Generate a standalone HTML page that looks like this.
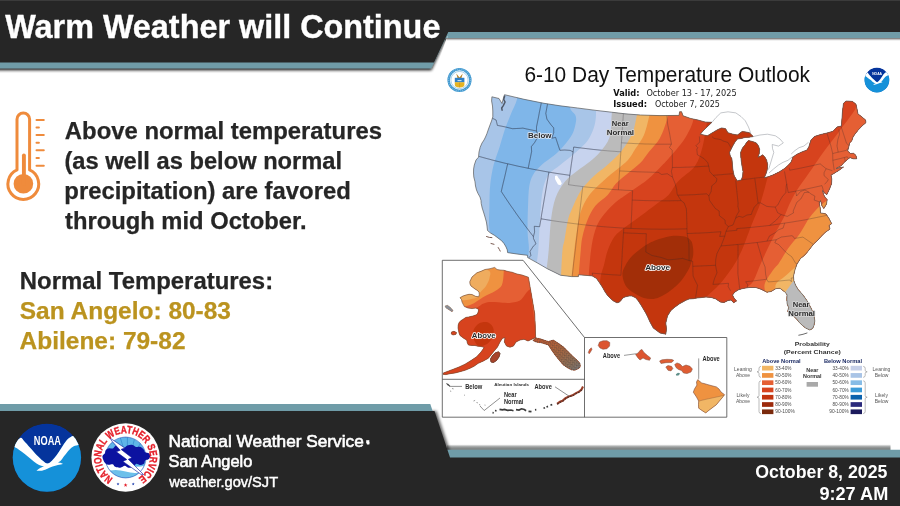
<!DOCTYPE html>
<html lang="en"><head><meta charset="utf-8"><title>Warm Weather will Continue</title>
<style>
html,body{margin:0;padding:0;background:#fff;}
body{width:900px;height:506px;overflow:hidden;position:relative;font-family:"Liberation Sans",sans-serif;}
svg{position:absolute;left:0;top:0;display:block;}
text{font-family:"Liberation Sans",sans-serif;}
.b{font-weight:bold;}
.dj{font-family:"DejaVu Sans","Liberation Sans",sans-serif;}
</style></head><body>
<svg width="900" height="506" viewBox="0 0 900 506">
<defs>
<filter id="sh" x="-5%" y="-30%" width="110%" height="180%"><feGaussianBlur in="SourceAlpha" stdDeviation="1.6"/><feOffset dy="2.4"/><feComponentTransfer><feFuncA type="linear" slope="0.9"/></feComponentTransfer><feMerge><feMergeNode/><feMergeNode in="SourceGraphic"/></feMerge></filter>
<filter id="shu" x="-5%" y="-30%" width="110%" height="180%"><feGaussianBlur in="SourceAlpha" stdDeviation="1.7"/><feOffset dy="-2.2"/><feComponentTransfer><feFuncA type="linear" slope="0.75"/></feComponentTransfer><feMerge><feMergeNode/><feMergeNode in="SourceGraphic"/></feMerge></filter>
<clipPath id="cl"><path d="M-5,-5 H452 V36 H447.5 L432,80 H-5Z"/></clipPath><clipPath id="cr"><path d="M452,-5 H910 V120 H432 L447.5,36 H452Z"/></clipPath>
<filter id="sh2" x="-5%" y="-30%" width="110%" height="180%"><feGaussianBlur in="SourceAlpha" stdDeviation="1.0"/><feOffset dy="1.3"/><feComponentTransfer><feFuncA type="linear" slope="0.7"/></feComponentTransfer><feMerge><feMergeNode/><feMergeNode in="SourceGraphic"/></feMerge></filter>
<filter id="shs" x="-5%" y="-30%" width="110%" height="160%"><feGaussianBlur in="SourceAlpha" stdDeviation="1.4"/><feOffset dx="1.5" dy="0"/><feComponentTransfer><feFuncA type="linear" slope="0.6"/></feComponentTransfer></filter>
<linearGradient id="fsh" x1="0" y1="0" x2="0" y2="1"><stop offset="0" stop-color="#5a6060" stop-opacity="0"/><stop offset="0.45" stop-color="#5a6060" stop-opacity="0.6"/><stop offset="1" stop-color="#4a5050" stop-opacity="0.8"/></linearGradient>
<clipPath id="us"><path d="M491.9,96.8 L499.0,98.5 L502.0,103.5 L503.2,99.0 L504.5,94.7 L524.0,99.3 L544.0,103.3 L560.0,105.8 L577.6,108.0 L596.0,110.4 L611.6,112.2 L625.0,113.8 L640.4,115.0 L660.0,115.6 L679.0,115.4 L679.6,111.8 L681.6,111.8 L683.0,115.8 L690.8,118.5 L698.0,120.0 L705.0,122.0 L712.0,122.3 L707.0,127.0 L703.0,131.0 L700.3,134.2 L707.4,135.8 L713.7,131.9 L718.0,129.5 L721.6,127.9 L725.6,128.7 L727.9,132.7 L733.0,134.2 L737.4,135.0 L740.0,133.0 L742.2,131.5 L746.0,132.0 L749.3,132.7 L751.7,135.0 L753.2,136.6 L749.0,137.2 L745.3,137.4 L741.0,138.5 L737.4,139.0 L735.0,142.0 L732.7,146.1 L729.5,152.4 L730.3,156.0 L731.9,158.8 L732.3,163.0 L732.7,168.2 L733.4,172.5 L734.3,176.1 L737.4,180.9 L741.4,179.8 L742.6,176.0 L743.0,171.4 L742.0,166.0 L741.4,161.9 L740.8,157.0 L740.6,152.4 L742.5,148.0 L745.3,144.5 L746.8,142.0 L748.5,140.6 L752.5,141.5 L756.4,142.9 L758.5,146.0 L759.6,149.3 L759.3,153.5 L758.0,157.2 L760.3,156.3 L762.7,154.8 L765.0,157.3 L766.7,160.3 L767.6,164.5 L767.5,168.2 L766.3,173.0 L764.3,177.7 L769.0,176.5 L773.8,174.6 L779.5,171.8 L784.9,168.2 L788.5,165.0 L791.2,161.9 L792.8,157.2 L796.5,154.5 L800.7,152.4 L807.0,150.0 L809.0,146.5 L810.0,143.0 L811.0,140.0 L814.4,136.5 L820.7,134.5 L827.0,133.0 L833.0,131.3 L837.0,127.0 L841.4,126.0 L842.0,118.0 L842.5,111.0 L843.5,103.3 L846.0,101.0 L849.7,101.2 L852.6,101.5 L856.0,104.3 L857.0,109.0 L858.0,114.0 L862.0,117.0 L865.5,120.0 L866.0,122.5 L862.0,126.0 L858.0,130.3 L855.0,134.0 L853.0,137.0 L851.8,140.7 L849.6,143.0 L849.0,146.0 L847.6,151.0 L850.5,153.5 L853.5,153.3 L856.0,155.5 L856.7,158.8 L853.0,158.8 L850.0,157.5 L847.6,159.4 L844.0,162.5 L841.4,165.6 L836.0,168.5 L843.5,167.0 L838.0,171.0 L833.0,174.0 L831.0,175.0 L831.8,179.0 L831.5,184.0 L829.5,189.0 L826.8,194.7 L824.0,192.5 L822.5,190.5 L823.5,194.5 L825.5,198.0 L827.2,199.5 L826.5,204.0 L823.9,208.5 L822.0,206.0 L820.5,200.5 L819.2,203.0 L820.3,208.5 L820.5,213.0 L823.0,213.3 L826.0,214.0 L829.0,218.5 L831.7,223.7 L829.0,225.5 L830.0,229.0 L825.0,232.6 L821.0,236.5 L818.0,240.0 L813.8,243.8 L810.5,248.0 L808.0,251.3 L804.9,254.9 L800.5,258.5 L797.0,264.0 L795.0,269.6 L793.5,276.0 L793.8,280.8 L796.0,286.0 L798.3,289.7 L803.0,295.0 L807.2,300.9 L811.0,308.0 L813.9,314.3 L814.8,321.0 L814.0,325.4 L812.6,328.5 L809.8,330.0 L805.7,328.1 L802.5,325.5 L799.4,322.6 L797.0,319.5 L794.6,317.0 L791.0,314.5 L787.7,311.5 L788.6,307.5 L787.2,304.0 L786.8,299.5 L787.0,294.9 L785.5,292.6 L784.9,292.0 L780.0,288.3 L776.0,288.6 L771.0,291.5 L767.0,292.2 L761.0,289.2 L755.9,287.5 L749.0,287.5 L742.5,288.6 L738.0,290.0 L734.7,292.2 L732.5,295.0 L734.0,298.0 L736.5,301.0 L733.6,302.7 L731.0,300.0 L728.0,300.5 L724.0,302.5 L720.2,302.0 L716.0,299.0 L711.3,297.5 L706.0,297.0 L702.0,297.5 L697.0,298.0 L693.4,298.7 L689.0,299.0 L685.9,300.3 L680.0,303.5 L675.0,307.0 L670.9,310.4 L667.5,316.0 L665.8,323.0 L666.5,329.0 L665.8,334.2 L660.0,333.0 L653.3,328.0 L650.0,322.0 L647.5,316.5 L645.7,312.9 L641.0,305.0 L638.0,300.5 L635.7,297.8 L632.0,296.0 L629.0,296.0 L625.5,296.8 L623.1,297.8 L620.5,301.0 L619.0,302.3 L616.9,302.8 L613.5,301.0 L611.0,299.0 L608.0,296.0 L605.6,292.8 L602.0,286.5 L599.0,282.0 L596.5,278.5 L592.3,275.9 L585.0,275.3 L578.4,274.8 L578.4,276.6 L571.5,276.6 L560.4,275.2 L554.0,272.0 L547.8,269.0 L538.0,263.3 L527.7,257.6 L527.5,255.3 L517.0,254.0 L507.6,252.6 L507.3,250.0 L506.0,246.9 L504.0,243.5 L501.6,240.7 L498.0,238.0 L494.4,235.3 L490.5,233.0 L487.5,230.5 L487.0,226.0 L486.4,222.0 L485.0,217.0 L483.8,213.0 L482.2,208.0 L481.2,203.5 L481.0,200.5 L480.0,197.0 L478.0,193.5 L476.5,190.0 L475.5,186.0 L475.0,181.8 L473.8,177.0 L473.5,173.0 L473.6,169.0 L474.3,165.0 L476.0,160.0 L478.5,157.2 L479.0,152.0 L480.2,147.2 L482.0,143.0 L484.0,140.0 L485.5,137.0 L486.9,133.7 L488.5,129.0 L490.0,125.0 L491.5,121.0 L492.8,116.9 L492.8,111.0 L492.5,106.0 L491.6,101.0Z"/></clipPath>
<linearGradient id="pang" x1="0" y1="0" x2="1" y2="1"><stop offset="0" stop-color="#cf5a30"/><stop offset="0.45" stop-color="#b4683e"/><stop offset="0.8" stop-color="#93745c"/><stop offset="1" stop-color="#7d7d82"/></linearGradient><pattern id="panh" width="2.6" height="2.6" patternUnits="userSpaceOnUse" patternTransform="rotate(40)"><path d="M0,0.6 H1.7 M1.2,1.9 H2.6" stroke="#4a4038" stroke-width="0.55"/></pattern><clipPath id="akc"><path d="M469.8,281.7 L472.0,277.0 L476.9,272.8 L481.0,271.3 L485.0,269.5 L490.0,268.7 L494.7,267.4 L497.0,269.5 L500.0,270.0 L504.0,270.3 L508.0,271.5 L512.0,272.2 L517.0,274.0 L522.0,275.0 L528.4,277.2 L531.5,295.0 L534.7,313.7 L535.3,326.0 L535.6,337.5 L532.0,339.2 L528.0,341.0 L524.0,339.3 L520.0,340.0 L516.0,342.0 L513.5,346.0 L510.0,347.2 L506.5,346.0 L504.3,342.0 L505.0,337.8 L502.5,338.2 L500.0,342.0 L497.5,347.0 L495.0,350.0 L488.3,358.3 L483.0,361.2 L478.3,363.3 L474.0,366.3 L470.0,368.3 L465.0,370.3 L460.0,371.7 L455.0,373.0 L450.0,373.7 L446.0,374.6 L443.3,374.4 L443.3,373.0 L448.0,371.2 L453.3,369.2 L459.0,367.0 L465.0,364.2 L471.0,360.5 L476.7,356.7 L481.0,352.0 L484.2,347.5 L481.0,346.5 L478.0,346.3 L475.0,345.5 L472.0,345.5 L468.3,345.0 L467.2,342.5 L466.7,340.0 L464.0,338.5 L462.0,337.0 L460.0,335.5 L459.1,333.2 L458.5,330.5 L458.0,328.0 L458.2,325.0 L459.1,322.6 L461.0,320.5 L462.0,320.0 L465.8,317.4 L468.5,317.0 L473.0,316.0 L477.0,314.5 L478.2,312.0 L478.7,309.5 L476.0,308.0 L472.0,308.6 L468.0,308.0 L464.4,306.6 L463.0,304.0 L462.0,302.0 L461.5,299.5 L460.0,297.7 L463.0,296.0 L466.0,295.0 L469.0,294.3 L472.0,294.5 L475.5,296.3 L478.7,296.8 L479.3,294.5 L479.0,292.0 L477.0,290.2 L475.0,289.0 L473.0,287.5 L471.0,286.0 L470.0,284.0Z M535.6,337.8 L541.0,339.0 L548.3,341.5 L553.3,340.0 L558.0,343.0 L563.3,346.7 L568.0,351.5 L573.3,356.7 L577.0,360.0 L580.0,363.3 L580.3,366.5 L579.2,368.3 L575.0,370.2 L571.7,370.0 L567.0,367.5 L563.3,365.0 L559.0,360.0 L555.0,355.0 L551.5,350.0 L548.3,345.0 L542.0,343.0 L536.0,342.0 L533.0,340.5Z M490.5,359.0 L492.5,355.5 L495.5,352.8 L498.5,351.8 L500.0,353.5 L499.0,357.0 L496.5,360.5 L493.5,362.5 L491.0,362.0Z M451.5,332.0 L454.0,331.3 L456.5,332.5 L456.0,334.3 L453.0,335.0 L451.3,334.0Z M445.0,306.0 L447.5,305.3 L450.5,307.5 L453.0,310.5 L452.0,311.8 L449.0,309.8 L446.0,308.0Z"/></clipPath><clipPath id="bigc"><path d="M697.8,379.6 L699.5,381.0 L701.5,383.0 L704.0,383.5 L708.0,384.7 L712.0,385.8 L716.4,386.9 L719.0,389.0 L721.0,392.0 L724.6,394.7 L722.0,398.0 L719.0,401.5 L716.4,404.7 L712.0,408.0 L708.0,411.0 L705.8,412.9 L703.0,411.2 L700.5,409.5 L698.7,408.2 L698.5,404.5 L698.7,401.1 L696.5,397.0 L693.3,392.2 L694.5,389.0 L696.9,385.1 L696.5,382.0Z"/></clipPath><clipPath id="westc"><path d="M611.8,108.0 C611.8,109.4 612.0,111.4 611.6,116.3 C611.2,121.2 611.4,131.6 609.5,137.5 C607.6,143.4 603.2,148.0 600.0,152.0 C596.8,156.0 593.8,158.3 590.0,161.5 C586.2,164.7 581.2,167.7 577.0,171.0 C572.8,174.3 568.6,177.0 565.0,181.5 C561.4,186.0 557.8,191.6 555.5,198.0 C553.2,204.4 552.1,211.3 551.0,220.0 C549.9,228.7 549.5,241.7 548.7,250.0 C548.0,258.3 546.9,266.7 546.5,270.0 L546.5,345 L440,345 L440,85 L611.8,85Z"/></clipPath>
</defs>
<rect width="900" height="506" fill="#fff"/>
<path d="M712,122.3 L716,117.5 L720.8,112.9 L728,111.8 L735.8,112.9 L741,116.5 L745.3,120.8 L748.5,127 L750.9,133.5 M753.2,136.6 L760,135 L767.5,134.2 L775.4,135.8 L780,139 L783.3,142.9 L778.5,146.1 L772.2,144.5 L772.5,148.5 L773.8,152.4 L771.5,160 L769,168.2 L764.3,174.6 M769,173 L773.5,169 L778.5,165 L783,162.3 L788,160.3 L792.8,156.4 M791.2,154 L795,150.5 L799,147.7 L803.8,146.1 L808.6,142.2" fill="none" stroke="#8a8f96" stroke-width="0.5" stroke-linejoin="round"/>
<g clip-path="url(#us)">
<rect x="440" y="85" width="460" height="260" fill="#a8c5e8"/>
<path d="M517.0,99.3 C515.9,103.8 512.5,110.0 510.4,115.2 C508.3,120.4 506.3,125.1 504.5,130.4 C502.7,135.7 501.3,141.4 499.5,147.2 C497.7,153.0 495.2,158.7 493.6,165.0 C492.1,171.3 490.9,178.0 490.2,185.0 C489.5,192.0 489.5,199.7 489.4,207.0 C489.3,214.3 488.5,223.1 489.4,228.8 C490.3,234.5 491.9,236.1 495.0,241.0 C498.1,245.9 502.5,254.2 508.0,258.0 C513.5,261.8 524.7,263.7 528.0,264.0 C531.3,264.3 527.6,262.7 527.7,260.0 C527.9,257.3 528.9,252.7 528.9,248.0 C528.9,243.3 527.8,238.8 527.6,232.0 C527.5,225.2 527.7,214.5 528.0,207.0 C528.3,199.5 528.4,192.1 529.2,186.8 C530.0,181.5 531.0,178.6 533.0,175.0 C535.0,171.4 538.0,168.2 541.5,165.0 C545.0,161.8 550.2,158.8 554.0,155.6 C557.8,152.3 560.9,149.2 564.0,145.5 C567.1,141.8 570.5,137.6 572.5,133.7 C574.5,129.8 575.4,125.1 575.9,122.0 C576.4,118.9 576.3,117.4 575.3,115.0 C574.3,112.6 570.9,111.5 570.0,107.7 C569.1,103.9 578.8,95.3 570.0,92.0 C561.2,88.7 525.8,86.8 517.0,88.0 C508.2,89.2 518.1,94.8 517.0,99.3Z" fill="#7fb6e9"/>
<path d="M596.0,108.0 C596.0,109.7 596.2,114.5 595.8,118.0 C595.4,121.5 594.8,125.3 593.4,129.0 C592.0,132.7 590.6,136.5 587.7,140.4 C584.8,144.3 580.4,148.2 575.9,152.2 C571.4,156.2 565.4,160.7 560.8,164.5 C556.2,168.3 551.4,170.7 548.4,175.0 C545.4,179.3 544.2,183.5 542.8,190.2 C541.4,196.9 541.0,205.4 540.2,215.4 C539.5,225.4 538.9,241.9 538.3,250.0 C537.7,258.1 536.8,261.7 536.5,264.0 L536.5,345.0 L905,345.0 L905,85.0 L596.0,85.0Z" fill="#c7d3ee"/>
<path d="M611.8,108.0 C611.8,109.4 612.0,111.4 611.6,116.3 C611.2,121.2 611.4,131.6 609.5,137.5 C607.6,143.4 603.2,148.0 600.0,152.0 C596.8,156.0 593.8,158.3 590.0,161.5 C586.2,164.7 581.2,167.7 577.0,171.0 C572.8,174.3 568.6,177.0 565.0,181.5 C561.4,186.0 557.8,191.6 555.5,198.0 C553.2,204.4 552.1,211.3 551.0,220.0 C549.9,228.7 549.5,241.7 548.7,250.0 C548.0,258.3 546.9,266.7 546.5,270.0 L546.5,345.0 L905,345.0 L905,85.0 L611.8,85.0Z" fill="#bbbbbb"/>
<path d="M638.7,110.0 C638.4,111.0 637.7,112.5 636.7,116.3 C635.7,120.1 635.0,127.2 632.5,133.0 C630.0,138.8 625.8,145.6 621.5,151.0 C617.2,156.4 611.3,161.5 606.8,165.6 C602.3,169.7 598.8,171.3 594.5,175.5 C590.2,179.7 584.8,184.8 581.0,190.5 C577.2,196.2 573.7,205.1 571.5,210.0 C569.3,214.9 569.2,215.0 568.0,220.0 C566.8,225.0 565.4,235.0 564.5,240.0 C563.6,245.0 563.1,243.8 562.5,250.0 C561.9,256.2 561.2,272.5 561.0,277.0 L561.0,345.0 L905,345.0 L905,85.0 L638.7,85.0Z" fill="#f1b665"/>
<path d="M649.8,110.0 C649.7,111.0 650.2,112.1 649.2,116.3 C648.2,120.5 646.3,129.6 644.0,135.0 C641.7,140.4 638.1,144.6 635.4,148.8 C632.7,153.0 631.1,156.6 628.0,160.0 C624.9,163.4 620.7,166.4 617.0,169.5 C613.3,172.6 610.7,174.2 606.0,178.5 C601.3,182.8 593.2,189.8 589.0,195.5 C584.8,201.2 582.5,206.8 580.5,212.5 C578.5,218.2 578.0,223.8 577.0,230.0 C576.0,236.2 575.2,241.8 574.3,250.0 C573.4,258.2 572.0,274.2 571.5,279.0 L571.5,345.0 L905,345.0 L905,85.0 L649.8,85.0Z" fill="#ef9240"/>
<path d="M666.6,110.0 C666.8,111.3 668.6,112.9 667.5,117.6 C666.4,122.3 663.1,132.3 660.0,138.0 C656.9,143.7 652.0,147.9 648.8,152.0 C645.5,156.1 644.0,159.3 640.5,162.8 C637.0,166.3 632.1,169.8 628.0,173.2 C623.9,176.6 619.4,179.9 616.0,183.5 C612.6,187.1 611.2,191.2 607.7,195.0 C604.2,198.8 598.6,201.8 595.2,206.0 C591.8,210.2 589.6,214.9 587.5,220.0 C585.4,225.1 583.6,231.5 582.5,236.5 C581.4,241.5 581.5,242.9 580.8,250.0 C580.1,257.1 578.8,274.2 578.4,279.0 L578.4,345.0 L905,345.0 L905,85.0 L666.6,85.0Z" fill="#e55f34"/>
<path d="M691.0,112.0 C691.3,113.5 694.1,116.8 693.0,121.3 C691.9,125.8 688.5,132.9 684.5,139.0 C680.5,145.1 672.8,153.6 669.0,158.0 C665.2,162.4 665.7,161.8 662.0,165.5 C658.3,169.2 653.0,175.1 647.0,180.0 C641.0,184.9 631.1,191.1 625.7,195.0 C620.3,198.9 618.6,199.6 614.6,203.3 C610.6,207.0 605.3,212.4 602.0,217.0 C598.7,221.6 596.8,225.4 595.0,231.0 C593.2,236.6 592.1,242.4 591.0,250.4 C589.9,258.4 588.9,274.2 588.5,279.0 L588.5,345.0 L905,345.0 L905,85.0 L691.0,85.0Z" fill="#d7431e"/>
<path d="M708.5,116.0 C708.1,117.9 707.0,122.4 706.0,127.6 C705.0,132.8 704.3,140.6 702.5,147.0 C700.7,153.4 699.1,160.2 695.0,166.0 C690.9,171.8 682.4,176.7 678.0,181.5 C673.6,186.3 672.0,191.4 668.6,195.0 C665.2,198.6 662.1,199.8 657.5,203.3 C652.9,206.8 646.2,211.9 640.9,215.8 C635.6,219.7 630.1,223.4 625.7,226.8 C621.3,230.2 617.6,232.6 614.6,236.5 C611.6,240.4 609.5,245.7 607.7,250.4 C605.9,255.2 605.1,260.9 604.0,265.0 C602.9,269.1 601.7,271.8 601.0,275.0 C600.3,278.2 600.1,282.5 599.9,284.0 L599.9,345.0 L905,345.0 L905,85.0 L708.5,85.0Z" fill="#c4360d"/>
<path d="M622.5,272.7 C622.8,269.9 624.5,267.3 625.7,265.0 C626.9,262.7 627.9,261.0 629.5,259.0 C631.1,257.0 632.6,255.4 635.4,253.0 C638.2,250.6 643.1,246.9 646.4,244.8 C649.7,242.7 652.2,241.7 655.0,240.5 C657.8,239.3 660.5,238.6 663.0,237.9 C665.5,237.2 667.7,236.5 670.0,236.2 C672.3,235.8 674.7,235.8 676.9,235.8 C679.1,235.8 681.1,236.0 683.0,236.3 C684.9,236.7 686.6,237.0 688.0,237.9 C689.4,238.8 690.7,240.1 691.5,241.5 C692.3,242.9 692.5,244.4 692.8,246.2 C693.1,247.9 693.3,250.2 693.3,252.0 C693.3,253.8 693.3,255.1 692.8,257.3 C692.3,259.5 691.3,262.8 690.5,265.0 C689.7,267.2 689.6,267.8 688.0,270.5 C686.4,273.2 683.9,277.7 681.0,281.0 C678.1,284.3 674.1,287.8 670.9,290.3 C667.7,292.8 664.9,294.6 662.0,296.0 C659.1,297.4 656.3,298.7 653.3,299.0 C650.3,299.3 646.9,298.8 644.0,298.0 C641.1,297.2 638.4,295.6 635.7,294.0 C633.0,292.4 630.0,290.5 628.0,288.5 C626.0,286.5 624.9,284.6 624.0,282.0 C623.1,279.4 622.2,275.5 622.5,272.7Z" fill="#a22e08"/>
<path d="M800.0,100.0 C798.3,108.3 794.7,137.8 790.0,150.0 C785.3,162.2 775.7,168.5 772.0,173.0 C768.3,177.5 769.2,174.1 768.0,176.8 C766.8,179.5 765.7,184.9 764.5,189.0 C763.3,193.1 762.3,197.3 761.0,201.3 C759.7,205.3 758.1,209.1 756.5,213.0 C754.9,216.9 753.6,219.7 751.5,225.0 C749.4,230.3 746.3,239.3 744.0,245.0 C741.7,250.7 739.7,254.9 737.5,259.0 C735.3,263.1 733.2,266.3 731.0,269.6 C728.8,272.9 726.4,276.0 724.0,279.0 C721.6,282.0 719.5,284.5 716.5,287.5 C713.5,290.5 709.1,293.9 706.0,297.0 C702.9,300.1 699.3,304.5 698.0,306.0 L698.0,345.0 L905,345.0 L905,100.0 L800.0,100.0Z" fill="#d7431e"/>
<path d="M856.0,106.0 C855.6,106.9 856.8,107.1 853.8,111.6 C850.8,116.1 843.0,126.3 838.0,133.0 C833.0,139.7 827.8,146.2 823.5,152.0 C819.2,157.8 815.8,163.3 812.5,168.0 C809.2,172.7 806.8,176.1 804.0,180.0 C801.2,183.9 798.4,187.5 796.0,191.5 C793.6,195.5 791.5,199.8 789.5,204.0 C787.5,208.2 786.1,212.7 784.0,217.0 C781.9,221.3 779.3,225.5 777.0,230.0 C774.7,234.5 772.7,238.3 770.0,243.8 C767.3,249.3 763.8,256.8 761.0,263.0 C758.2,269.2 756.0,276.5 753.5,280.8 C751.0,285.1 748.1,285.8 746.0,289.0 C743.9,292.2 741.8,298.2 741.0,300.0 L741.0,345.0 L905,345.0 L905,106.0 L856.0,106.0Z" fill="#e55f34"/>
<path d="M838.0,196.0 C836.3,196.7 831.0,198.4 828.0,200.0 C825.0,201.6 823.0,203.0 820.0,205.8 C817.0,208.6 812.5,213.8 810.0,217.0 C807.5,220.2 806.8,222.0 805.0,225.0 C803.2,228.0 801.8,230.9 799.0,234.8 C796.2,238.7 791.3,243.8 788.0,248.5 C784.7,253.2 781.4,259.5 779.0,263.0 C776.6,266.5 775.8,266.3 773.5,269.6 C771.2,272.9 766.4,279.3 765.0,283.0 C763.6,286.7 765.0,289.2 765.0,292.0 C765.0,294.8 765.0,298.7 765.0,300.0 L765.0,345.0 L905,345.0 L905,196.0 L838.0,196.0Z" fill="#ef9240"/>
<path d="M803.0,262.0 C802.0,262.7 798.5,264.9 797.0,266.0 C795.5,267.1 795.8,266.8 793.8,268.5 C791.8,270.2 788.0,273.7 785.0,276.3 C782.0,278.9 777.5,281.4 776.0,284.0 C774.5,286.6 776.0,290.7 776.0,292.0 L776.0,345.0 L905,345.0 L905,262.0 L803.0,262.0Z" fill="#f1b665"/>
<path d="M802.0,275.0 C801.0,275.7 797.4,278.0 796.0,279.0 C794.6,280.0 794.9,279.6 793.8,280.8 C792.7,282.0 790.9,284.4 789.4,286.4 C787.9,288.3 786.5,290.2 784.9,292.5 C783.3,294.8 780.8,298.8 780.0,300.0 L780.0,345.0 L905,345.0 L905,275.0 L802.0,275.0Z" fill="#bbbbbb"/>
<path d="M555.0,176.0 L557.0,175.6 L558.5,178.0 L560.5,180.5 L561.8,183.5 L560.5,185.3 L558.0,184.5 L556.3,181.5 L555.0,179.0Z" fill="#fff"/>
<path d="M491.2,117.7 L496.1,120.0 L497.4,125.4 L501.7,126.2 L506.0,127.1 L509.2,127.9 L512.5,128.7 L516.7,128.5 L520.8,128.3 L522.9,128.1 L526.3,128.9 L529.7,129.6 L533.1,130.3 L536.5,131.0 M541.4,102.4 L540.4,107.4 L539.4,112.2 L538.5,117.1 L537.5,122.0 L536.5,126.9 L536.5,131.0 M536.5,131.0 L538.3,136.2 L534.7,142.4 L531.4,146.6 L531.6,151.5 L530.5,157.1 L529.3,162.7 L528.2,168.3 M479.0,156.4 L482.6,157.4 L486.2,158.4 L489.7,159.3 L493.3,160.3 L496.9,161.2 L500.5,162.1 L504.1,163.0 L507.7,163.8 L511.8,164.7 L515.9,165.7 L520.0,166.6 L524.1,167.4 L528.2,168.3 L532.3,169.1 L536.5,169.9 L540.6,170.6 L544.7,171.4 L548.9,172.1 L552.4,172.7 L555.9,173.3 L559.3,173.8 L562.8,174.3 L566.3,174.8 L569.8,175.3 M507.7,163.8 L506.6,168.4 L505.6,173.0 L504.5,177.7 L503.4,182.3 L502.3,186.9 L501.3,191.5 L504.3,196.1 L507.3,200.6 L510.4,205.2 L513.6,209.7 L516.7,214.2 L520.0,218.8 L523.3,223.2 L526.6,227.7 L530.0,232.2 L533.4,236.6 M533.4,236.6 L534.6,232.1 L534.3,226.3 L539.6,226.7 L541.0,218.8 L541.7,214.1 L542.5,209.5 L543.3,204.8 L544.1,200.1 L544.9,195.5 L545.7,190.8 L546.5,186.1 L547.3,181.5 L548.1,176.8 L548.9,172.1 M533.4,236.6 L533.5,238.6 L536.0,243.8 L533.3,246.2 L530.0,251.4 L530.9,255.4 L528.9,257.8 M541.0,218.8 L544.7,219.4 L548.4,220.0 L552.1,220.6 L555.9,221.2 L559.6,221.7 L563.3,222.2 L567.1,222.7 L570.8,223.2 L574.6,223.7 L578.3,224.1 L582.1,224.6 L585.9,225.0 L589.6,225.4 L593.4,225.8 L597.2,226.1 L601.0,226.5 L604.8,226.8 L608.6,227.1 L612.4,227.4 L616.2,227.6 L620.0,227.9 L623.8,228.1 L631.0,228.4 L635.0,228.6 L639.0,228.7 L643.0,228.9 L647.0,229.0 L651.0,229.1 L655.0,229.1 L659.0,229.2 L663.0,229.2 L667.0,229.2 L671.0,229.1 L675.0,229.1 L679.0,229.0 L683.0,228.9 L687.0,228.8 M582.7,186.6 L582.2,191.3 L581.6,196.0 L581.1,200.7 L580.5,205.4 L580.0,210.1 L579.4,214.8 L578.9,219.5 L578.3,224.1 L577.7,229.0 L577.2,233.8 L576.6,238.7 L576.0,243.5 L575.5,248.3 L574.9,253.2 L574.3,258.0 L573.7,262.9 L573.2,267.7 L572.6,272.6 L572.0,277.4 M569.8,175.3 L569.2,180.0 L568.5,184.7 L572.1,185.2 L575.6,185.7 L579.2,186.1 L582.7,186.6 L586.3,187.0 L589.8,187.4 L593.4,187.7 L597.0,188.1 L600.5,188.4 L604.1,188.7 L607.6,189.0 L611.2,189.3 L614.8,189.6 L618.4,189.8 L621.9,190.0 L625.5,190.3 L629.1,190.4 L632.6,190.6 M569.8,175.3 L570.6,169.5 L571.4,163.7 L572.3,157.8 L573.1,151.9 L573.7,147.0 M547.6,103.7 L546.7,108.5 L545.8,113.4 L546.9,119.1 L550.8,124.6 L553.7,127.9 L553.7,132.7 L551.8,138.2 L555.6,137.4 L557.8,144.1 L559.9,150.3 L564.7,150.0 L570.2,150.4 L573.1,151.9 M573.7,147.0 L577.1,147.5 L580.5,147.9 L583.8,148.3 L587.2,148.7 L590.5,149.1 L593.9,149.5 L597.3,149.8 L600.6,150.2 L604.0,150.5 L607.4,150.8 L610.7,151.1 L614.1,151.3 L617.5,151.6 L620.9,151.8 M623.4,113.4 L623.1,118.3 L622.7,123.2 L622.4,128.1 L622.1,133.0 L621.8,137.9 L621.4,142.8 L620.9,151.8 L620.5,156.6 L620.2,161.4 L619.9,166.1 L619.6,170.9 L619.3,175.6 L619.0,180.4 L618.7,185.1 L618.4,189.8 M621.4,142.8 L624.8,143.0 L628.2,143.2 L631.6,143.4 L634.9,143.6 L638.3,143.7 L641.7,143.8 L645.1,144.0 L648.4,144.0 L652.3,144.1 L656.1,144.2 L659.9,144.2 L663.7,144.2 L667.6,144.2 L671.4,144.2 M619.6,170.9 L623.1,171.1 L626.7,171.3 L630.2,171.5 L633.7,171.6 L637.3,171.8 L640.8,171.9 L644.3,172.0 L647.8,172.1 L651.2,172.2 L654.7,172.3 L658.2,172.3 L661.7,174.5 L667.3,173.7 L670.8,176.1 L672.5,177.1 M632.6,190.6 L632.4,195.4 L632.2,200.1 L632.0,204.8 L631.8,209.5 L631.6,214.3 L631.4,219.0 L631.2,223.7 L631.0,228.4 M632.2,200.1 L635.9,200.2 L639.6,200.4 L643.3,200.5 L646.9,200.6 L650.6,200.7 L654.3,200.7 L658.0,200.8 L661.8,200.8 L665.7,200.8 L669.5,200.8 L673.4,200.7 L677.2,200.7 L681.1,200.6 M681.1,200.6 L684.1,202.9 L686.4,208.8 L686.6,213.8 L686.7,218.8 L686.9,223.8 L687.0,228.8 L687.1,233.5 L688.0,238.7 L688.9,243.9 L689.0,249.4 L689.0,255.0 L689.1,260.5 L692.6,261.2 L692.8,266.3 L692.9,271.1 L693.1,276.0 L695.2,280.6 L697.5,285.2 L696.5,291.9 L695.5,297.7 M623.8,228.1 L623.5,232.8 L627.3,233.0 L631.1,233.2 L634.9,233.3 L638.7,233.5 L642.5,233.6 L646.3,233.7 L646.1,239.8 L646.0,245.9 L645.8,252.0 L652.0,255.5 L656.7,256.5 L661.4,257.5 L668.1,259.9 L674.0,259.4 L678.3,258.9 L682.6,258.4 L689.1,260.5 M623.5,232.8 L623.2,237.5 L622.9,242.2 L622.6,246.9 L622.3,251.6 L622.1,256.4 L621.8,261.1 L621.5,265.8 L621.2,270.5 L620.9,275.3 L616.8,275.0 L612.7,274.8 L608.6,274.5 L604.5,274.2 L600.4,273.8 L596.3,273.5 L592.2,273.1 L592.7,275.3 M692.8,266.3 L697.3,266.1 L701.9,265.9 L706.4,265.7 L711.0,265.5 L715.5,265.3 M687.1,233.5 L691.1,233.4 L695.1,233.2 L699.1,233.1 L703.0,232.9 L707.0,232.7 L711.7,232.4 L716.4,232.0 L721.0,231.7 L719.7,236.5 L724.8,236.1 M730.6,290.9 L728.2,286.7 L728.5,283.3 L723.3,283.7 L718.1,284.1 L712.9,284.4 L714.5,278.6 L717.0,272.8 L715.5,265.3 L715.7,259.6 L716.9,253.8 L719.3,248.9 L721.0,245.9 L722.6,242.0 L724.8,236.1 L726.0,231.3 L728.4,226.5 L725.3,223.8 L725.0,220.0 L719.4,215.7 L719.1,211.0 L715.2,208.4 L709.5,200.3 L708.9,195.9 L711.1,191.6 L711.8,185.9 L716.1,182.2 L717.0,178.8 L713.2,175.3 L709.8,171.7 L708.7,166.1 L707.8,162.8 L704.1,158.7 L700.5,156.5 L697.4,154.8 L696.8,149.5 L697.7,147.6 L695.9,145.8 L699.7,142.0 L699.4,136.4 M672.4,167.5 L676.7,167.4 L680.9,167.4 L685.1,167.2 L689.4,167.1 L693.2,166.9 L697.1,166.8 L701.0,166.5 L704.8,166.3 L708.7,166.1 M677.7,195.2 L681.7,195.1 L685.8,195.0 L689.9,194.8 L694.0,194.7 L698.2,194.4 L702.5,194.1 L706.7,193.8 L708.9,195.9 M672.4,167.5 L671.4,171.3 L672.5,177.1 L675.1,183.6 L676.6,189.3 L677.1,194.0 L677.7,195.2 L681.1,200.6 M666.8,114.7 L667.2,119.5 L667.7,124.4 L668.7,129.2 L669.7,134.0 L670.5,138.8 L671.4,143.6 L671.4,144.2 L669.5,147.5 L672.2,150.3 L672.3,156.1 L672.4,161.8 L672.4,167.5 M713.2,175.3 L717.1,175.0 L721.1,174.7 L725.1,174.3 L729.1,174.0 L733.1,173.6 M731.9,148.8 L730.3,146.5 L727.9,142.4 L723.1,141.0 L720.9,139.7 L717.5,139.0 L714.0,138.4 L712.0,136.6 M735.7,180.4 L736.3,186.1 L736.9,191.8 L737.5,197.4 L738.1,203.1 L737.9,206.4 L739.1,211.1 L736.3,216.1 L735.7,218.1 M754.8,178.7 L755.5,183.6 L756.1,188.5 L756.8,193.4 L757.4,198.2 L758.1,203.1 M738.0,180.1 L742.2,179.7 L746.5,179.2 L750.7,178.7 L754.9,178.1 L759.6,177.6 L764.4,177.1 M728.4,226.5 L733.0,225.0 L735.7,218.1 L738.9,216.3 L742.8,217.3 L747.0,215.0 L751.4,214.4 L752.2,211.8 L754.3,207.1 L758.1,203.1 L760.4,202.8 L766.8,206.4 L771.0,206.8 L775.2,207.1 L777.8,205.0 L780.4,199.8 L782.4,196.6 L785.8,192.6 L786.2,186.3 L786.7,183.9 M784.5,171.4 L785.6,177.7 L786.7,183.9 L788.2,192.5 L792.0,191.8 L795.7,191.1 L800.4,190.2 L805.1,189.3 L809.8,188.3 L813.9,187.4 L817.9,186.5 L822.0,185.6 M775.2,207.1 L777.6,212.7 L781.1,214.6 L776.4,220.0 L769.7,225.4 M726.0,231.3 L731.4,230.8 L736.9,230.3 L736.8,228.6 L740.6,228.3 L744.5,228.0 L748.4,227.6 L752.2,227.3 L756.6,226.8 L761.0,226.4 L765.4,225.9 L769.7,225.4 L773.5,224.8 L777.2,224.3 L781.0,223.7 L784.7,223.1 L788.8,222.5 L792.8,221.9 L796.8,221.2 L800.8,220.6 L804.8,219.9 L808.7,219.1 L812.6,218.3 L816.5,217.5 L820.3,216.7 L824.2,215.9 L828.1,215.0 M784.7,223.1 L783.1,228.1 L778.7,229.7 L775.3,232.7 L769.5,235.9 L767.0,241.1 M721.0,245.9 L725.0,245.6 L729.1,245.3 L733.1,244.9 L737.2,244.5 L741.2,244.2 L745.2,243.8 L749.2,243.4 L753.2,242.9 L757.2,242.5 L762.1,241.8 L767.0,241.1 L771.6,240.4 L776.3,239.7 M737.2,244.5 L738.0,245.4 L738.0,250.1 L738.0,254.9 L738.0,259.7 L737.9,264.5 L737.9,269.2 L737.9,274.0 L738.6,279.3 L739.2,284.6 L739.9,289.9 M757.2,242.5 L758.6,247.3 L760.1,252.2 L761.5,257.0 L763.0,261.9 L765.1,267.0 L765.6,274.1 L766.7,279.2 M747.2,288.4 L747.7,284.8 L745.7,281.7 L749.9,281.3 L754.1,280.8 L758.3,280.3 L762.5,279.8 L766.7,279.2 L768.2,281.9 L772.5,281.6 L776.9,281.2 L781.2,280.8 L785.5,280.4 L789.9,280.0 L791.4,281.8 L791.2,278.0 L795.7,277.7 M776.3,239.7 L774.8,242.7 L778.7,244.6 L785.3,251.7 L788.1,254.1 L791.8,256.8 L795.7,263.4 L798.1,264.6 M776.3,239.7 L781.4,237.0 L786.6,236.4 L791.8,235.7 L792.8,236.0 L794.4,238.4 L798.6,237.8 L802.9,237.1 L808.0,240.6 L813.1,244.2 M781.1,214.6 L787.3,216.4 L793.5,212.9 L793.2,211.0 L796.9,202.2 L800.8,199.0 L804.4,192.5 L809.0,192.3 M809.0,192.3 L805.0,190.0 L800.8,191.3 L796.6,196.0 L795.7,191.1 M809.0,192.3 L811.0,194.0 L814.9,196.1 L814.2,200.1 L817.0,201.0 L822.5,203.2 M822.0,185.6 L823.6,191.4 L825.3,197.1 L830.0,196.1 M824.6,184.3 L827.0,181.7 L828.3,179.5 L824.0,175.6 L824.1,172.7 L826.1,168.7 L820.2,163.9 L816.4,164.7 L812.6,165.6 L808.8,166.4 L805.0,167.2 L801.2,168.0 L797.4,168.8 L793.5,169.5 L789.7,170.2 L789.3,167.7 M826.1,168.7 L832.4,170.7 M834.2,170.2 L833.5,165.3 L832.8,160.3 L832.7,153.5 L830.8,145.6 L828.8,139.2 L826.8,132.8 M832.8,160.3 L836.7,159.4 L840.5,158.5 L844.4,157.5 L845.8,164.0 M844.4,157.5 L847.3,156.8 L849.8,161.2 M832.7,153.5 L838.2,152.2 L842.2,151.3 L846.1,150.4 L848.9,147.9 M838.2,152.2 L837.0,145.9 L837.8,139.8 L839.5,134.4 L838.9,129.5 M849.2,145.8 L846.5,143.3 L844.9,138.3 L843.3,133.3 L840.9,126.1" fill="none" stroke="#30282c" stroke-opacity="0.4" stroke-width="0.7" stroke-linejoin="round"/>
<g clip-path="url(#westc)"><path d="M491.2,117.7 L496.1,120.0 L497.4,125.4 L501.7,126.2 L506.0,127.1 L509.2,127.9 L512.5,128.7 L516.7,128.5 L520.8,128.3 L522.9,128.1 L526.3,128.9 L529.7,129.6 L533.1,130.3 L536.5,131.0 M541.4,102.4 L540.4,107.4 L539.4,112.2 L538.5,117.1 L537.5,122.0 L536.5,126.9 L536.5,131.0 M536.5,131.0 L538.3,136.2 L534.7,142.4 L531.4,146.6 L531.6,151.5 L530.5,157.1 L529.3,162.7 L528.2,168.3 M479.0,156.4 L482.6,157.4 L486.2,158.4 L489.7,159.3 L493.3,160.3 L496.9,161.2 L500.5,162.1 L504.1,163.0 L507.7,163.8 L511.8,164.7 L515.9,165.7 L520.0,166.6 L524.1,167.4 L528.2,168.3 L532.3,169.1 L536.5,169.9 L540.6,170.6 L544.7,171.4 L548.9,172.1 L552.4,172.7 L555.9,173.3 L559.3,173.8 L562.8,174.3 L566.3,174.8 L569.8,175.3 M507.7,163.8 L506.6,168.4 L505.6,173.0 L504.5,177.7 L503.4,182.3 L502.3,186.9 L501.3,191.5 L504.3,196.1 L507.3,200.6 L510.4,205.2 L513.6,209.7 L516.7,214.2 L520.0,218.8 L523.3,223.2 L526.6,227.7 L530.0,232.2 L533.4,236.6 M533.4,236.6 L534.6,232.1 L534.3,226.3 L539.6,226.7 L541.0,218.8 L541.7,214.1 L542.5,209.5 L543.3,204.8 L544.1,200.1 L544.9,195.5 L545.7,190.8 L546.5,186.1 L547.3,181.5 L548.1,176.8 L548.9,172.1 M533.4,236.6 L533.5,238.6 L536.0,243.8 L533.3,246.2 L530.0,251.4 L530.9,255.4 L528.9,257.8 M541.0,218.8 L544.7,219.4 L548.4,220.0 L552.1,220.6 L555.9,221.2 L559.6,221.7 L563.3,222.2 L567.1,222.7 L570.8,223.2 L574.6,223.7 L578.3,224.1 L582.1,224.6 L585.9,225.0 L589.6,225.4 L593.4,225.8 L597.2,226.1 L601.0,226.5 L604.8,226.8 L608.6,227.1 L612.4,227.4 L616.2,227.6 L620.0,227.9 L623.8,228.1 L631.0,228.4 L635.0,228.6 L639.0,228.7 L643.0,228.9 L647.0,229.0 L651.0,229.1 L655.0,229.1 L659.0,229.2 L663.0,229.2 L667.0,229.2 L671.0,229.1 L675.0,229.1 L679.0,229.0 L683.0,228.9 L687.0,228.8 M582.7,186.6 L582.2,191.3 L581.6,196.0 L581.1,200.7 L580.5,205.4 L580.0,210.1 L579.4,214.8 L578.9,219.5 L578.3,224.1 L577.7,229.0 L577.2,233.8 L576.6,238.7 L576.0,243.5 L575.5,248.3 L574.9,253.2 L574.3,258.0 L573.7,262.9 L573.2,267.7 L572.6,272.6 L572.0,277.4 M569.8,175.3 L569.2,180.0 L568.5,184.7 L572.1,185.2 L575.6,185.7 L579.2,186.1 L582.7,186.6 L586.3,187.0 L589.8,187.4 L593.4,187.7 L597.0,188.1 L600.5,188.4 L604.1,188.7 L607.6,189.0 L611.2,189.3 L614.8,189.6 L618.4,189.8 L621.9,190.0 L625.5,190.3 L629.1,190.4 L632.6,190.6 M569.8,175.3 L570.6,169.5 L571.4,163.7 L572.3,157.8 L573.1,151.9 L573.7,147.0 M547.6,103.7 L546.7,108.5 L545.8,113.4 L546.9,119.1 L550.8,124.6 L553.7,127.9 L553.7,132.7 L551.8,138.2 L555.6,137.4 L557.8,144.1 L559.9,150.3 L564.7,150.0 L570.2,150.4 L573.1,151.9 M573.7,147.0 L577.1,147.5 L580.5,147.9 L583.8,148.3 L587.2,148.7 L590.5,149.1 L593.9,149.5 L597.3,149.8 L600.6,150.2 L604.0,150.5 L607.4,150.8 L610.7,151.1 L614.1,151.3 L617.5,151.6 L620.9,151.8 M623.4,113.4 L623.1,118.3 L622.7,123.2 L622.4,128.1 L622.1,133.0 L621.8,137.9 L621.4,142.8 L620.9,151.8 L620.5,156.6 L620.2,161.4 L619.9,166.1 L619.6,170.9 L619.3,175.6 L619.0,180.4 L618.7,185.1 L618.4,189.8 M621.4,142.8 L624.8,143.0 L628.2,143.2 L631.6,143.4 L634.9,143.6 L638.3,143.7 L641.7,143.8 L645.1,144.0 L648.4,144.0 L652.3,144.1 L656.1,144.2 L659.9,144.2 L663.7,144.2 L667.6,144.2 L671.4,144.2 M619.6,170.9 L623.1,171.1 L626.7,171.3 L630.2,171.5 L633.7,171.6 L637.3,171.8 L640.8,171.9 L644.3,172.0 L647.8,172.1 L651.2,172.2 L654.7,172.3 L658.2,172.3 L661.7,174.5 L667.3,173.7 L670.8,176.1 L672.5,177.1 M632.6,190.6 L632.4,195.4 L632.2,200.1 L632.0,204.8 L631.8,209.5 L631.6,214.3 L631.4,219.0 L631.2,223.7 L631.0,228.4 M632.2,200.1 L635.9,200.2 L639.6,200.4 L643.3,200.5 L646.9,200.6 L650.6,200.7 L654.3,200.7 L658.0,200.8 L661.8,200.8 L665.7,200.8 L669.5,200.8 L673.4,200.7 L677.2,200.7 L681.1,200.6 M681.1,200.6 L684.1,202.9 L686.4,208.8 L686.6,213.8 L686.7,218.8 L686.9,223.8 L687.0,228.8 L687.1,233.5 L688.0,238.7 L688.9,243.9 L689.0,249.4 L689.0,255.0 L689.1,260.5 L692.6,261.2 L692.8,266.3 L692.9,271.1 L693.1,276.0 L695.2,280.6 L697.5,285.2 L696.5,291.9 L695.5,297.7 M623.8,228.1 L623.5,232.8 L627.3,233.0 L631.1,233.2 L634.9,233.3 L638.7,233.5 L642.5,233.6 L646.3,233.7 L646.1,239.8 L646.0,245.9 L645.8,252.0 L652.0,255.5 L656.7,256.5 L661.4,257.5 L668.1,259.9 L674.0,259.4 L678.3,258.9 L682.6,258.4 L689.1,260.5 M623.5,232.8 L623.2,237.5 L622.9,242.2 L622.6,246.9 L622.3,251.6 L622.1,256.4 L621.8,261.1 L621.5,265.8 L621.2,270.5 L620.9,275.3 L616.8,275.0 L612.7,274.8 L608.6,274.5 L604.5,274.2 L600.4,273.8 L596.3,273.5 L592.2,273.1 L592.7,275.3 M692.8,266.3 L697.3,266.1 L701.9,265.9 L706.4,265.7 L711.0,265.5 L715.5,265.3 M687.1,233.5 L691.1,233.4 L695.1,233.2 L699.1,233.1 L703.0,232.9 L707.0,232.7 L711.7,232.4 L716.4,232.0 L721.0,231.7 L719.7,236.5 L724.8,236.1 M730.6,290.9 L728.2,286.7 L728.5,283.3 L723.3,283.7 L718.1,284.1 L712.9,284.4 L714.5,278.6 L717.0,272.8 L715.5,265.3 L715.7,259.6 L716.9,253.8 L719.3,248.9 L721.0,245.9 L722.6,242.0 L724.8,236.1 L726.0,231.3 L728.4,226.5 L725.3,223.8 L725.0,220.0 L719.4,215.7 L719.1,211.0 L715.2,208.4 L709.5,200.3 L708.9,195.9 L711.1,191.6 L711.8,185.9 L716.1,182.2 L717.0,178.8 L713.2,175.3 L709.8,171.7 L708.7,166.1 L707.8,162.8 L704.1,158.7 L700.5,156.5 L697.4,154.8 L696.8,149.5 L697.7,147.6 L695.9,145.8 L699.7,142.0 L699.4,136.4 M672.4,167.5 L676.7,167.4 L680.9,167.4 L685.1,167.2 L689.4,167.1 L693.2,166.9 L697.1,166.8 L701.0,166.5 L704.8,166.3 L708.7,166.1 M677.7,195.2 L681.7,195.1 L685.8,195.0 L689.9,194.8 L694.0,194.7 L698.2,194.4 L702.5,194.1 L706.7,193.8 L708.9,195.9 M672.4,167.5 L671.4,171.3 L672.5,177.1 L675.1,183.6 L676.6,189.3 L677.1,194.0 L677.7,195.2 L681.1,200.6 M666.8,114.7 L667.2,119.5 L667.7,124.4 L668.7,129.2 L669.7,134.0 L670.5,138.8 L671.4,143.6 L671.4,144.2 L669.5,147.5 L672.2,150.3 L672.3,156.1 L672.4,161.8 L672.4,167.5 M713.2,175.3 L717.1,175.0 L721.1,174.7 L725.1,174.3 L729.1,174.0 L733.1,173.6 M731.9,148.8 L730.3,146.5 L727.9,142.4 L723.1,141.0 L720.9,139.7 L717.5,139.0 L714.0,138.4 L712.0,136.6 M735.7,180.4 L736.3,186.1 L736.9,191.8 L737.5,197.4 L738.1,203.1 L737.9,206.4 L739.1,211.1 L736.3,216.1 L735.7,218.1 M754.8,178.7 L755.5,183.6 L756.1,188.5 L756.8,193.4 L757.4,198.2 L758.1,203.1 M738.0,180.1 L742.2,179.7 L746.5,179.2 L750.7,178.7 L754.9,178.1 L759.6,177.6 L764.4,177.1 M728.4,226.5 L733.0,225.0 L735.7,218.1 L738.9,216.3 L742.8,217.3 L747.0,215.0 L751.4,214.4 L752.2,211.8 L754.3,207.1 L758.1,203.1 L760.4,202.8 L766.8,206.4 L771.0,206.8 L775.2,207.1 L777.8,205.0 L780.4,199.8 L782.4,196.6 L785.8,192.6 L786.2,186.3 L786.7,183.9 M784.5,171.4 L785.6,177.7 L786.7,183.9 L788.2,192.5 L792.0,191.8 L795.7,191.1 L800.4,190.2 L805.1,189.3 L809.8,188.3 L813.9,187.4 L817.9,186.5 L822.0,185.6 M775.2,207.1 L777.6,212.7 L781.1,214.6 L776.4,220.0 L769.7,225.4 M726.0,231.3 L731.4,230.8 L736.9,230.3 L736.8,228.6 L740.6,228.3 L744.5,228.0 L748.4,227.6 L752.2,227.3 L756.6,226.8 L761.0,226.4 L765.4,225.9 L769.7,225.4 L773.5,224.8 L777.2,224.3 L781.0,223.7 L784.7,223.1 L788.8,222.5 L792.8,221.9 L796.8,221.2 L800.8,220.6 L804.8,219.9 L808.7,219.1 L812.6,218.3 L816.5,217.5 L820.3,216.7 L824.2,215.9 L828.1,215.0 M784.7,223.1 L783.1,228.1 L778.7,229.7 L775.3,232.7 L769.5,235.9 L767.0,241.1 M721.0,245.9 L725.0,245.6 L729.1,245.3 L733.1,244.9 L737.2,244.5 L741.2,244.2 L745.2,243.8 L749.2,243.4 L753.2,242.9 L757.2,242.5 L762.1,241.8 L767.0,241.1 L771.6,240.4 L776.3,239.7 M737.2,244.5 L738.0,245.4 L738.0,250.1 L738.0,254.9 L738.0,259.7 L737.9,264.5 L737.9,269.2 L737.9,274.0 L738.6,279.3 L739.2,284.6 L739.9,289.9 M757.2,242.5 L758.6,247.3 L760.1,252.2 L761.5,257.0 L763.0,261.9 L765.1,267.0 L765.6,274.1 L766.7,279.2 M747.2,288.4 L747.7,284.8 L745.7,281.7 L749.9,281.3 L754.1,280.8 L758.3,280.3 L762.5,279.8 L766.7,279.2 L768.2,281.9 L772.5,281.6 L776.9,281.2 L781.2,280.8 L785.5,280.4 L789.9,280.0 L791.4,281.8 L791.2,278.0 L795.7,277.7 M776.3,239.7 L774.8,242.7 L778.7,244.6 L785.3,251.7 L788.1,254.1 L791.8,256.8 L795.7,263.4 L798.1,264.6 M776.3,239.7 L781.4,237.0 L786.6,236.4 L791.8,235.7 L792.8,236.0 L794.4,238.4 L798.6,237.8 L802.9,237.1 L808.0,240.6 L813.1,244.2 M781.1,214.6 L787.3,216.4 L793.5,212.9 L793.2,211.0 L796.9,202.2 L800.8,199.0 L804.4,192.5 L809.0,192.3 M809.0,192.3 L805.0,190.0 L800.8,191.3 L796.6,196.0 L795.7,191.1 M809.0,192.3 L811.0,194.0 L814.9,196.1 L814.2,200.1 L817.0,201.0 L822.5,203.2 M822.0,185.6 L823.6,191.4 L825.3,197.1 L830.0,196.1 M824.6,184.3 L827.0,181.7 L828.3,179.5 L824.0,175.6 L824.1,172.7 L826.1,168.7 L820.2,163.9 L816.4,164.7 L812.6,165.6 L808.8,166.4 L805.0,167.2 L801.2,168.0 L797.4,168.8 L793.5,169.5 L789.7,170.2 L789.3,167.7 M826.1,168.7 L832.4,170.7 M834.2,170.2 L833.5,165.3 L832.8,160.3 L832.7,153.5 L830.8,145.6 L828.8,139.2 L826.8,132.8 M832.8,160.3 L836.7,159.4 L840.5,158.5 L844.4,157.5 L845.8,164.0 M844.4,157.5 L847.3,156.8 L849.8,161.2 M832.7,153.5 L838.2,152.2 L842.2,151.3 L846.1,150.4 L848.9,147.9 M838.2,152.2 L837.0,145.9 L837.8,139.8 L839.5,134.4 L838.9,129.5 M849.2,145.8 L846.5,143.3 L844.9,138.3 L843.3,133.3 L840.9,126.1" fill="none" stroke="#22304a" stroke-opacity="0.4" stroke-width="0.7" stroke-linejoin="round"/></g>
</g>
<path d="M491.9,96.8 L499.0,98.5 L502.0,103.5 L503.2,99.0 L504.5,94.7 L524.0,99.3 L544.0,103.3 L560.0,105.8 L577.6,108.0 L596.0,110.4 L611.6,112.2 L625.0,113.8 L640.4,115.0 L660.0,115.6 L679.0,115.4 L679.6,111.8 L681.6,111.8 L683.0,115.8 L690.8,118.5 L698.0,120.0 L705.0,122.0 L712.0,122.3 L707.0,127.0 L703.0,131.0 L700.3,134.2 L707.4,135.8 L713.7,131.9 L718.0,129.5 L721.6,127.9 L725.6,128.7 L727.9,132.7 L733.0,134.2 L737.4,135.0 L740.0,133.0 L742.2,131.5 L746.0,132.0 L749.3,132.7 L751.7,135.0 L753.2,136.6 L749.0,137.2 L745.3,137.4 L741.0,138.5 L737.4,139.0 L735.0,142.0 L732.7,146.1 L729.5,152.4 L730.3,156.0 L731.9,158.8 L732.3,163.0 L732.7,168.2 L733.4,172.5 L734.3,176.1 L737.4,180.9 L741.4,179.8 L742.6,176.0 L743.0,171.4 L742.0,166.0 L741.4,161.9 L740.8,157.0 L740.6,152.4 L742.5,148.0 L745.3,144.5 L746.8,142.0 L748.5,140.6 L752.5,141.5 L756.4,142.9 L758.5,146.0 L759.6,149.3 L759.3,153.5 L758.0,157.2 L760.3,156.3 L762.7,154.8 L765.0,157.3 L766.7,160.3 L767.6,164.5 L767.5,168.2 L766.3,173.0 L764.3,177.7 L769.0,176.5 L773.8,174.6 L779.5,171.8 L784.9,168.2 L788.5,165.0 L791.2,161.9 L792.8,157.2 L796.5,154.5 L800.7,152.4 L807.0,150.0 L809.0,146.5 L810.0,143.0 L811.0,140.0 L814.4,136.5 L820.7,134.5 L827.0,133.0 L833.0,131.3 L837.0,127.0 L841.4,126.0 L842.0,118.0 L842.5,111.0 L843.5,103.3 L846.0,101.0 L849.7,101.2 L852.6,101.5 L856.0,104.3 L857.0,109.0 L858.0,114.0 L862.0,117.0 L865.5,120.0 L866.0,122.5 L862.0,126.0 L858.0,130.3 L855.0,134.0 L853.0,137.0 L851.8,140.7 L849.6,143.0 L849.0,146.0 L847.6,151.0 L850.5,153.5 L853.5,153.3 L856.0,155.5 L856.7,158.8 L853.0,158.8 L850.0,157.5 L847.6,159.4 L844.0,162.5 L841.4,165.6 L836.0,168.5 L843.5,167.0 L838.0,171.0 L833.0,174.0 L831.0,175.0 L831.8,179.0 L831.5,184.0 L829.5,189.0 L826.8,194.7 L824.0,192.5 L822.5,190.5 L823.5,194.5 L825.5,198.0 L827.2,199.5 L826.5,204.0 L823.9,208.5 L822.0,206.0 L820.5,200.5 L819.2,203.0 L820.3,208.5 L820.5,213.0 L823.0,213.3 L826.0,214.0 L829.0,218.5 L831.7,223.7 L829.0,225.5 L830.0,229.0 L825.0,232.6 L821.0,236.5 L818.0,240.0 L813.8,243.8 L810.5,248.0 L808.0,251.3 L804.9,254.9 L800.5,258.5 L797.0,264.0 L795.0,269.6 L793.5,276.0 L793.8,280.8 L796.0,286.0 L798.3,289.7 L803.0,295.0 L807.2,300.9 L811.0,308.0 L813.9,314.3 L814.8,321.0 L814.0,325.4 L812.6,328.5 L809.8,330.0 L805.7,328.1 L802.5,325.5 L799.4,322.6 L797.0,319.5 L794.6,317.0 L791.0,314.5 L787.7,311.5 L788.6,307.5 L787.2,304.0 L786.8,299.5 L787.0,294.9 L785.5,292.6 L784.9,292.0 L780.0,288.3 L776.0,288.6 L771.0,291.5 L767.0,292.2 L761.0,289.2 L755.9,287.5 L749.0,287.5 L742.5,288.6 L738.0,290.0 L734.7,292.2 L732.5,295.0 L734.0,298.0 L736.5,301.0 L733.6,302.7 L731.0,300.0 L728.0,300.5 L724.0,302.5 L720.2,302.0 L716.0,299.0 L711.3,297.5 L706.0,297.0 L702.0,297.5 L697.0,298.0 L693.4,298.7 L689.0,299.0 L685.9,300.3 L680.0,303.5 L675.0,307.0 L670.9,310.4 L667.5,316.0 L665.8,323.0 L666.5,329.0 L665.8,334.2 L660.0,333.0 L653.3,328.0 L650.0,322.0 L647.5,316.5 L645.7,312.9 L641.0,305.0 L638.0,300.5 L635.7,297.8 L632.0,296.0 L629.0,296.0 L625.5,296.8 L623.1,297.8 L620.5,301.0 L619.0,302.3 L616.9,302.8 L613.5,301.0 L611.0,299.0 L608.0,296.0 L605.6,292.8 L602.0,286.5 L599.0,282.0 L596.5,278.5 L592.3,275.9 L585.0,275.3 L578.4,274.8 L578.4,276.6 L571.5,276.6 L560.4,275.2 L554.0,272.0 L547.8,269.0 L538.0,263.3 L527.7,257.6 L527.5,255.3 L517.0,254.0 L507.6,252.6 L507.3,250.0 L506.0,246.9 L504.0,243.5 L501.6,240.7 L498.0,238.0 L494.4,235.3 L490.5,233.0 L487.5,230.5 L487.0,226.0 L486.4,222.0 L485.0,217.0 L483.8,213.0 L482.2,208.0 L481.2,203.5 L481.0,200.5 L480.0,197.0 L478.0,193.5 L476.5,190.0 L475.5,186.0 L475.0,181.8 L473.8,177.0 L473.5,173.0 L473.6,169.0 L474.3,165.0 L476.0,160.0 L478.5,157.2 L479.0,152.0 L480.2,147.2 L482.0,143.0 L484.0,140.0 L485.5,137.0 L486.9,133.7 L488.5,129.0 L490.0,125.0 L491.5,121.0 L492.8,116.9 L492.8,111.0 L492.5,106.0 L491.6,101.0Z" fill="none" stroke="#5a5a5a" stroke-width="0.7" stroke-linejoin="round"/>
<path d="M504.6,96.2 l-0.9,3.2 l1.4,2.6 l-1.8,3.6 l-1.6,2.4 l0.4,2.2" fill="none" stroke="#4f5868" stroke-width="1.5" stroke-linejoin="round" stroke-linecap="round"/>
<path d="M486.5,236.5 l2.8,0.9 l2.6,0.2 M491,243.5 l3,0.8 M498.2,247.5 l1.2,2 l0.8,1.6" fill="none" stroke="#7a5a50" stroke-width="1" stroke-linecap="round"/>
<path d="M798.8,335.2 L803,334.3 L807,333" fill="none" stroke="#5a5a5a" stroke-width="0.9" stroke-linecap="round"/>
<path d="M442.3,417.2 V260.3 H523.1 L584.5,337.5 H726.8 V417.2 Z" fill="none" stroke="#4a4a4a" stroke-width="0.8"/>
<path d="M584.5,337.5 V417.2 M442.3,379.3 H584.5" fill="none" stroke="#4a4a4a" stroke-width="0.8"/>
<g clip-path="url(#akc)">
<rect x="440" y="262" width="145" height="115" fill="#ef9240"/>
<path d="M470.0,268.0 C474.4,267.2 485.2,268.8 488.5,270.5 C491.8,272.2 489.9,275.4 489.5,278.0 C489.1,280.6 487.5,283.6 486.0,286.0 C484.5,288.4 481.9,290.4 480.4,292.3 C478.9,294.2 480.4,296.2 477.0,297.5 C473.6,298.8 463.7,301.2 460.0,300.0 C456.3,298.8 454.7,294.2 455.0,290.0 C455.3,285.8 459.5,278.7 462.0,275.0 C464.5,271.3 465.6,268.8 470.0,268.0Z" fill="#efac5e"/>
<path d="M503.6,266.0 C503.6,267.4 503.9,271.4 503.6,274.6 C503.3,277.8 503.1,282.6 501.8,285.2 C500.5,287.8 498.1,289.0 496.0,290.5 C493.9,292.0 491.5,293.0 489.3,294.1 C487.1,295.2 485.1,296.1 483.0,297.3 C480.9,298.5 479.1,299.9 476.9,301.2 C474.7,302.5 473.6,303.7 470.0,305.0 C466.4,306.3 457.5,308.3 455.0,309.0 L440,309.0 L440,380 L590,380 L590,260 L503.6,260Z" fill="#e55f34"/>
<path d="M540.0,284.0 C538.1,285.1 531.5,288.0 528.4,290.6 C525.3,293.2 523.7,297.4 521.3,299.4 C518.9,301.3 516.4,301.7 514.0,302.3 C511.6,302.9 509.8,303.0 507.1,303.0 C504.4,303.0 501.0,302.5 498.0,302.3 C495.0,302.1 491.8,301.8 489.3,302.0 C486.8,302.2 484.8,303.0 483.0,303.8 C481.2,304.6 480.9,305.4 478.7,306.6 C476.5,307.8 473.9,309.4 470.0,311.0 C466.1,312.6 457.5,315.2 455.0,316.0 L440,316.0 L440,380 L590,380 L590,260 L540.0,260Z" fill="#d7431e"/>
<path d="M474.0,329.0 C475.0,327.1 477.0,324.7 479.0,323.5 C481.0,322.3 483.9,321.8 486.0,322.0 C488.1,322.2 490.2,323.5 491.5,325.0 C492.8,326.5 493.7,328.8 493.8,331.0 C493.9,333.2 493.1,335.8 492.0,338.0 C490.9,340.2 489.2,342.7 487.0,344.0 C484.8,345.3 481.1,346.5 479.0,346.0 C476.9,345.5 475.5,342.8 474.5,341.0 C473.5,339.2 473.1,337.0 473.0,335.0 C472.9,333.0 473.0,330.9 474.0,329.0Z" fill="#c4360d"/>
<path d="M529,280 L537.5,345 L541,345 L531.5,278Z" fill="#e55f34"/>
<path d="M535.6,337.8 L541.0,339.0 L548.3,341.5 L553.3,340.0 L558.0,343.0 L563.3,346.7 L568.0,351.5 L573.3,356.7 L577.0,360.0 L580.0,363.3 L580.3,366.5 L579.2,368.3 L575.0,370.2 L571.7,370.0 L567.0,367.5 L563.3,365.0 L559.0,360.0 L555.0,355.0 L551.5,350.0 L548.3,345.0 L542.0,343.0 L536.0,342.0 L533.0,340.5Z" fill="url(#pang)"/>
</g>
<path d="M469.8,281.7 L472.0,277.0 L476.9,272.8 L481.0,271.3 L485.0,269.5 L490.0,268.7 L494.7,267.4 L497.0,269.5 L500.0,270.0 L504.0,270.3 L508.0,271.5 L512.0,272.2 L517.0,274.0 L522.0,275.0 L528.4,277.2 L531.5,295.0 L534.7,313.7 L535.3,326.0 L535.6,337.5 L532.0,339.2 L528.0,341.0 L524.0,339.3 L520.0,340.0 L516.0,342.0 L513.5,346.0 L510.0,347.2 L506.5,346.0 L504.3,342.0 L505.0,337.8 L502.5,338.2 L500.0,342.0 L497.5,347.0 L495.0,350.0 L488.3,358.3 L483.0,361.2 L478.3,363.3 L474.0,366.3 L470.0,368.3 L465.0,370.3 L460.0,371.7 L455.0,373.0 L450.0,373.7 L446.0,374.6 L443.3,374.4 L443.3,373.0 L448.0,371.2 L453.3,369.2 L459.0,367.0 L465.0,364.2 L471.0,360.5 L476.7,356.7 L481.0,352.0 L484.2,347.5 L481.0,346.5 L478.0,346.3 L475.0,345.5 L472.0,345.5 L468.3,345.0 L467.2,342.5 L466.7,340.0 L464.0,338.5 L462.0,337.0 L460.0,335.5 L459.1,333.2 L458.5,330.5 L458.0,328.0 L458.2,325.0 L459.1,322.6 L461.0,320.5 L462.0,320.0 L465.8,317.4 L468.5,317.0 L473.0,316.0 L477.0,314.5 L478.2,312.0 L478.7,309.5 L476.0,308.0 L472.0,308.6 L468.0,308.0 L464.4,306.6 L463.0,304.0 L462.0,302.0 L461.5,299.5 L460.0,297.7 L463.0,296.0 L466.0,295.0 L469.0,294.3 L472.0,294.5 L475.5,296.3 L478.7,296.8 L479.3,294.5 L479.0,292.0 L477.0,290.2 L475.0,289.0 L473.0,287.5 L471.0,286.0 L470.0,284.0Z M490.5,359.0 L492.5,355.5 L495.5,352.8 L498.5,351.8 L500.0,353.5 L499.0,357.0 L496.5,360.5 L493.5,362.5 L491.0,362.0Z M451.5,332.0 L454.0,331.3 L456.5,332.5 L456.0,334.3 L453.0,335.0 L451.3,334.0Z" fill="none" stroke="#6a4a3a" stroke-width="0.6" stroke-linejoin="round"/>
<path d="M535.6,337.8 L541.0,339.0 L548.3,341.5 L553.3,340.0 L558.0,343.0 L563.3,346.7 L568.0,351.5 L573.3,356.7 L577.0,360.0 L580.0,363.3 L580.3,366.5 L579.2,368.3 L575.0,370.2 L571.7,370.0 L567.0,367.5 L563.3,365.0 L559.0,360.0 L555.0,355.0 L551.5,350.0 L548.3,345.0 L542.0,343.0 L536.0,342.0 L533.0,340.5Z" fill="url(#panh)" stroke="#5a4a40" stroke-width="0.7" stroke-dasharray="1.6 0.7" stroke-linejoin="round"/>
<path d="M445.0,306.0 L447.5,305.3 L450.5,307.5 L453.0,310.5 L452.0,311.8 L449.0,309.8 L446.0,308.0Z" fill="#8a8f98" stroke="#777" stroke-width="0.4"/>
<path d="M490.5,359.0 L492.5,355.5 L495.5,352.8 L498.5,351.8 L500.0,353.5 L499.0,357.0 L496.5,360.5 L493.5,362.5 L491.0,362.0Z" fill="#a8432a" stroke="#5a4038" stroke-width="0.5"/>
<g fill="#3a3a3a" stroke="#3a3a3a" stroke-width="0.5">
<path d="M446.5,383.5 l2,0.8 l1.5,1.6 l-2.2,-0.6z M452,388.5 l1.6,0.4 M450,391 l1.2,0.3 M464,395 l0.9,0.3 M473.5,401 l1.6,-0.6 M476.5,402.5 l1.4,0.4 M479,404.5 l1.3,0.5 M484.5,405 l1,0.2"/>
<path d="M499.5,409.3 l3,0.6 l2,-0.5 l3,0.9 l3.5,-0.3 l2.5,0.8 M495,410.5 l1.5,0.3 M492.5,412.6 l1.2,0.2 M516,409.6 l3,0.4 l2.5,-1.2 l2.8,0.7 l1.8,1.2 M528.5,411.3 l3,0.4 M535,409.8 l1.3,-0.2 M543.5,408.2 l1.5,-0.5 M546.5,407 l1.5,-0.6 M550.5,405.3 l1.7,-0.8" stroke-width="1.7" fill="none"/>
</g>
<path d="M557,403.8 l3,-2 l2.5,-1 l3,-2.6 l3,-1.6 l4,-1.3 l3.5,-2.2 l3,-1.4 l2.5,-2.2 l1.5,-3" fill="none" stroke="#9a3e28" stroke-width="2.1"/>
<path d="M557,403.8 l3,-2 l2.5,-1 l3,-2.6 l3,-1.6 l4,-1.3 l3.5,-2.2 l3,-1.4 l2.5,-2.2" fill="none" stroke="#4a2e28" stroke-width="1.1" stroke-dasharray="1.6 1.4" transform="translate(0.3,0.4)"/>
<path d="M449,386.4 H462 M500,398 L484.2,410.5 L480,406 M555,386.8 L570,396.8" fill="none" stroke="#444" stroke-width="0.6"/>
<path d="M588.3,352.5 L589.5,349.5 L591.3,347.8 L592.0,349.3 L590.5,352.0 L589.2,353.8Z" fill="#dc5530" stroke="#7a4a3a" stroke-width="0.5" stroke-linejoin="round"/>
<path d="M598.2,345.5 L599.5,342.0 L603.0,340.8 L607.0,340.7 L609.8,342.5 L609.6,346.0 L607.0,348.7 L603.0,349.3 L600.0,348.0Z" fill="#dc5530" stroke="#7a4a3a" stroke-width="0.5" stroke-linejoin="round"/>
<path d="M635.6,354.5 L638.0,353.0 L640.5,350.0 L642.0,349.5 L644.0,352.5 L647.5,355.5 L650.7,358.0 L649.5,360.3 L646.0,359.5 L643.0,358.0 L640.0,360.0 L638.0,358.0Z" fill="#dc5530" stroke="#7a4a3a" stroke-width="0.5" stroke-linejoin="round"/>
<path d="M659.6,361.0 L662.0,359.8 L667.0,359.3 L672.0,359.5 L673.8,360.5 L671.5,362.5 L666.0,362.7 L661.0,363.5Z" fill="#df5d33" stroke="#7a4a3a" stroke-width="0.5" stroke-linejoin="round"/>
<path d="M665.8,367.0 L668.0,365.6 L671.5,366.3 L672.9,368.5 L671.0,370.9 L668.0,370.3Z" fill="#df5d33" stroke="#7a4a3a" stroke-width="0.5" stroke-linejoin="round"/>
<path d="M674.7,364.5 L677.0,362.9 L680.0,364.0 L682.5,366.5 L686.0,365.0 L690.0,366.3 L692.4,369.0 L691.0,372.0 L687.0,373.6 L683.5,373.0 L681.5,370.5 L678.5,369.5 L676.0,367.5Z" fill="#df5d33" stroke="#7a4a3a" stroke-width="0.5" stroke-linejoin="round"/>
<path d="M675.8,374.3 L678.0,372.8 L680.0,373.3 L679.0,375.2 L676.5,375.8Z" fill="#5f8f8a"/>
<path d="M697.8,379.6 L699.5,381.0 L701.5,383.0 L704.0,383.5 L708.0,384.7 L712.0,385.8 L716.4,386.9 L719.0,389.0 L721.0,392.0 L724.6,394.7 L722.0,398.0 L719.0,401.5 L716.4,404.7 L712.0,408.0 L708.0,411.0 L705.8,412.9 L703.0,411.2 L700.5,409.5 L698.7,408.2 L698.5,404.5 L698.7,401.1 L696.5,397.0 L693.3,392.2 L694.5,389.0 L696.9,385.1 L696.5,382.0Z" fill="#ef9240"/>
<g clip-path="url(#bigc)"><path d="M690.0,402.2 L698.7,401.1 L705.0,399.5 L712.0,398.0 L719.0,396.5 L730.0,394.0 L730.0,420.0 L690.0,420.0Z" fill="#f1b665"/><path d="M690,402.2 L698.7,401.1 L705,399.5 L712,398 L719,396.5 L730,394" fill="none" stroke="#8a5a3a" stroke-width="0.4"/></g>
<path d="M697.8,379.6 L699.5,381.0 L701.5,383.0 L704.0,383.5 L708.0,384.7 L712.0,385.8 L716.4,386.9 L719.0,389.0 L721.0,392.0 L724.6,394.7 L722.0,398.0 L719.0,401.5 L716.4,404.7 L712.0,408.0 L708.0,411.0 L705.8,412.9 L703.0,411.2 L700.5,409.5 L698.7,408.2 L698.5,404.5 L698.7,401.1 L696.5,397.0 L693.3,392.2 L694.5,389.0 L696.9,385.1 L696.5,382.0Z" fill="none" stroke="#7a4a3a" stroke-width="0.6" stroke-linejoin="round"/>
<path d="M624,355.4 L636.5,353.7 M698.7,358.4 V378.9" fill="none" stroke="#555" stroke-width="0.6"/>
<text x="528.0" y="138.0" font-size="7.2" class="b" fill="#2a2a2a" stroke="#dfe9f7" stroke-width="1.6" stroke-linejoin="round" paint-order="stroke" textLength="23.5" lengthAdjust="spacingAndGlyphs">Below</text>
<text x="611.8" y="126.0" font-size="7.2" class="b" fill="#2a2a2a" stroke="#d5d5d5" stroke-width="1.6" stroke-linejoin="round" paint-order="stroke" textLength="16.8" lengthAdjust="spacingAndGlyphs">Near</text>
<text x="606.8" y="135.3" font-size="7.2" class="b" fill="#2a2a2a" stroke="#d5d5d5" stroke-width="1.6" stroke-linejoin="round" paint-order="stroke" textLength="27.2" lengthAdjust="spacingAndGlyphs">Normal</text>
<text x="645.2" y="270.0" font-size="7.2" class="b" fill="#2a2a2a" stroke="#fff" stroke-width="1.6" stroke-linejoin="round" paint-order="stroke" textLength="24.9" lengthAdjust="spacingAndGlyphs">Above</text>
<text x="792.7" y="306.5" font-size="7.2" class="b" fill="#2a2a2a" stroke="#d8d8d8" stroke-width="1.6" stroke-linejoin="round" paint-order="stroke" textLength="16.8" lengthAdjust="spacingAndGlyphs">Near</text>
<text x="788.3" y="316.0" font-size="7.2" class="b" fill="#2a2a2a" stroke="#d8d8d8" stroke-width="1.6" stroke-linejoin="round" paint-order="stroke" textLength="26.7" lengthAdjust="spacingAndGlyphs">Normal</text>
<text x="471.8" y="337.8" font-size="7.2" class="b" fill="#2a2a2a" stroke="#fff" stroke-width="1.6" stroke-linejoin="round" paint-order="stroke" textLength="23.8" lengthAdjust="spacingAndGlyphs">Above</text>
<text x="465.2" y="389.4" font-size="6.4" class="b" fill="#2a2a2a" stroke="#fff" stroke-width="0.3" stroke-linejoin="round" paint-order="stroke" textLength="17.0" lengthAdjust="spacingAndGlyphs">Below</text>
<text x="534.5" y="389.4" font-size="6.4" class="b" fill="#2a2a2a" stroke="#fff" stroke-width="0.3" stroke-linejoin="round" paint-order="stroke" textLength="17.3" lengthAdjust="spacingAndGlyphs">Above</text>
<text x="504.0" y="397.0" font-size="6.4" class="b" fill="#2a2a2a" stroke="#fff" stroke-width="0.3" stroke-linejoin="round" paint-order="stroke" textLength="12.6" lengthAdjust="spacingAndGlyphs">Near</text>
<text x="504.0" y="404.0" font-size="6.4" class="b" fill="#2a2a2a" stroke="#fff" stroke-width="0.3" stroke-linejoin="round" paint-order="stroke" textLength="19.4" lengthAdjust="spacingAndGlyphs">Normal</text>
<text x="494.3" y="386" font-size="3.9" class="b" fill="#333" textLength="34.7" lengthAdjust="spacingAndGlyphs">Aleutian Islands</text>
<text x="602.8" y="358.1" font-size="6.4" class="b" fill="#2a2a2a" stroke="#fff" stroke-width="0.3" stroke-linejoin="round" paint-order="stroke" textLength="17.3" lengthAdjust="spacingAndGlyphs">Above</text>
<text x="702.4" y="360.6" font-size="6.4" class="b" fill="#2a2a2a" stroke="#fff" stroke-width="0.3" stroke-linejoin="round" paint-order="stroke" textLength="17.4" lengthAdjust="spacingAndGlyphs">Above</text>
<text x="812.3" y="346.3" font-size="6.2" class="b" fill="#333" text-anchor="middle" textLength="35" lengthAdjust="spacingAndGlyphs">Probability</text>
<text x="812.3" y="354" font-size="6.2" class="b" fill="#333" text-anchor="middle" textLength="57" lengthAdjust="spacingAndGlyphs">(Percent Chance)</text>
<text x="781.4" y="362.8" font-size="5.4" class="b" fill="#1b2a63" text-anchor="middle" textLength="38.5" lengthAdjust="spacingAndGlyphs">Above Normal</text>
<text x="843" y="362.8" font-size="5.4" class="b" fill="#1b2a63" text-anchor="middle" textLength="38" lengthAdjust="spacingAndGlyphs">Below Normal</text>
<rect x="762" y="365.80" width="11.4" height="4.7" fill="#f1b665"/>
<rect x="850.6" y="365.80" width="11.4" height="4.7" fill="#c5cfe8"/>
<text x="775.3" y="369.80" font-size="4.9" fill="#4a4a4a" textLength="16.2" lengthAdjust="spacingAndGlyphs">33-40%</text>
<text x="848.7" y="369.80" font-size="4.9" fill="#4a4a4a" text-anchor="end" textLength="16.2" lengthAdjust="spacingAndGlyphs">33-40%</text>
<rect x="762" y="373.07" width="11.4" height="4.7" fill="#ef9240"/>
<rect x="850.6" y="373.07" width="11.4" height="4.7" fill="#a9c4e6"/>
<text x="775.3" y="377.07" font-size="4.9" fill="#4a4a4a" textLength="16.2" lengthAdjust="spacingAndGlyphs">40-50%</text>
<text x="848.7" y="377.07" font-size="4.9" fill="#4a4a4a" text-anchor="end" textLength="16.2" lengthAdjust="spacingAndGlyphs">40-50%</text>
<rect x="762" y="380.34" width="11.4" height="4.7" fill="#e55f34"/>
<rect x="850.6" y="380.34" width="11.4" height="4.7" fill="#86bce6"/>
<text x="775.3" y="384.34" font-size="4.9" fill="#4a4a4a" textLength="16.2" lengthAdjust="spacingAndGlyphs">50-60%</text>
<text x="848.7" y="384.34" font-size="4.9" fill="#4a4a4a" text-anchor="end" textLength="16.2" lengthAdjust="spacingAndGlyphs">50-60%</text>
<rect x="762" y="387.61" width="11.4" height="4.7" fill="#d7431e"/>
<rect x="850.6" y="387.61" width="11.4" height="4.7" fill="#3b9bd8"/>
<text x="775.3" y="391.61" font-size="4.9" fill="#4a4a4a" textLength="16.2" lengthAdjust="spacingAndGlyphs">60-70%</text>
<text x="848.7" y="391.61" font-size="4.9" fill="#4a4a4a" text-anchor="end" textLength="16.2" lengthAdjust="spacingAndGlyphs">60-70%</text>
<rect x="762" y="394.88" width="11.4" height="4.7" fill="#c2340f"/>
<rect x="850.6" y="394.88" width="11.4" height="4.7" fill="#0b62ad"/>
<text x="775.3" y="398.88" font-size="4.9" fill="#4a4a4a" textLength="16.2" lengthAdjust="spacingAndGlyphs">70-80%</text>
<text x="848.7" y="398.88" font-size="4.9" fill="#4a4a4a" text-anchor="end" textLength="16.2" lengthAdjust="spacingAndGlyphs">70-80%</text>
<rect x="762" y="402.15" width="11.4" height="4.7" fill="#9c2a0c"/>
<rect x="850.6" y="402.15" width="11.4" height="4.7" fill="#2b2a7c"/>
<text x="775.3" y="406.15" font-size="4.9" fill="#4a4a4a" textLength="16.2" lengthAdjust="spacingAndGlyphs">80-90%</text>
<text x="848.7" y="406.15" font-size="4.9" fill="#4a4a4a" text-anchor="end" textLength="16.2" lengthAdjust="spacingAndGlyphs">80-90%</text>
<rect x="762" y="409.42" width="11.4" height="4.7" fill="#7a2a0c"/>
<rect x="850.6" y="409.42" width="11.4" height="4.7" fill="#1b1a5c"/>
<text x="775.3" y="413.42" font-size="4.9" fill="#4a4a4a" textLength="19.4" lengthAdjust="spacingAndGlyphs">90-100%</text>
<text x="848.7" y="413.42" font-size="4.9" fill="#4a4a4a" text-anchor="end" textLength="19.4" lengthAdjust="spacingAndGlyphs">90-100%</text>
<text x="812.3" y="372" font-size="5.4" class="b" fill="#333" text-anchor="middle">Near</text>
<text x="812.3" y="378.3" font-size="5.4" class="b" fill="#333" text-anchor="middle">Normal</text>
<rect x="806.6" y="382" width="11.4" height="4.7" fill="#a9a9a9"/>
<text x="743" y="370.6" font-size="5" fill="#555" text-anchor="middle">Leaning</text>
<text x="743" y="376.6" font-size="5" fill="#555" text-anchor="middle">Above</text>
<text x="743" y="396.6" font-size="5" fill="#555" text-anchor="middle">Likely</text>
<text x="743" y="402.6" font-size="5" fill="#555" text-anchor="middle">Above</text>
<text x="881.5" y="370.6" font-size="5" fill="#555" text-anchor="middle">Leaning</text>
<text x="881.5" y="376.6" font-size="5" fill="#555" text-anchor="middle">Below</text>
<text x="881.5" y="396.6" font-size="5" fill="#555" text-anchor="middle">Likely</text>
<text x="881.5" y="402.6" font-size="5" fill="#555" text-anchor="middle">Below</text>
<path d="M761,366.3 q-2,0.3 -2,2 V370.25 q0,1.4 -2,1.6 q2,0.2 2,1.6 V375.4 q0,1.7 2,2 M761,380.8 q-2,0.3 -2,2 V395.6 q0,1.4 -2,1.6 q2,0.2 2,1.6 V411.6 q0,1.7 2,2 M863.2,366.3 q2,0.3 2,2 V370.25 q0,1.4 2,1.6 q-2,0.2 -2,1.6 V375.4 q0,1.7 -2,2 M863.2,380.8 q2,0.3 2,2 V395.6 q0,1.4 2,1.6 q-2,0.2 -2,1.6 V411.6 q0,1.7 -2,2" fill="none" stroke="#777" stroke-width="0.5"/>

<g clip-path="url(#cl)"><g filter="url(#sh)"><path d="M-20,-10 H920 V37.9 H445.5 L431.3,68.2 H-20Z" fill="#6f9ca8"/></g></g>
<g clip-path="url(#cr)"><g filter="url(#sh2)"><path d="M-20,-10 H920 V37.9 H445.5 L431.3,68.2 H-20Z" fill="#6f9ca8"/></g></g>
<path d="M-5,-5 H905 V32 H448.3 L434,62.5 H-5Z" fill="#262626"/>
<rect x="0" y="0" width="900" height="1" fill="#3b3b3b"/>
<rect x="447" y="444.3" width="443.5" height="5.6" fill="url(#fsh)"/>
<g filter="url(#shs)"><path d="M0,506 V411 H434.5 L450,457.4 H900 V506Z" fill="#262626"/></g>
<path d="M0,506 V404 H430.3 L445.6,449.7 H900 V506Z" fill="#6f9ca8"/>
<path d="M0,506 V411 H434.5 L450,457.4 H900 V506Z" fill="#262626"/>

<text x="5.2" y="38.2" font-size="32.5" class="b" fill="#fff" textLength="435.2" lengthAdjust="spacingAndGlyphs" stroke="#fff" stroke-width="0.35">Warm Weather will Continue</text>
<text x="64.8" y="139.0" font-size="23" class="b" fill="#262626" textLength="317.2" lengthAdjust="spacingAndGlyphs" stroke="#262626" stroke-width="0.25">Above normal temperatures</text>
<text x="64.4" y="168.9" font-size="23" class="b" fill="#262626" textLength="277.7" lengthAdjust="spacingAndGlyphs" stroke="#262626" stroke-width="0.25">(as well as below normal</text>
<text x="64.3" y="198.7" font-size="23" class="b" fill="#262626" textLength="286.5" lengthAdjust="spacingAndGlyphs" stroke="#262626" stroke-width="0.25">precipitation) are favored</text>
<text x="65.1" y="228.5" font-size="23" class="b" fill="#262626" textLength="241.4" lengthAdjust="spacingAndGlyphs" stroke="#262626" stroke-width="0.25">through mid October.</text>
<text x="19.8" y="289.0" font-size="23" class="b" fill="#262626" textLength="253.3" lengthAdjust="spacingAndGlyphs" stroke="#262626" stroke-width="0.25">Normal Temperatures:</text>
<text x="19.8" y="319.0" font-size="23" class="b" fill="#bb931f" textLength="211.2" lengthAdjust="spacingAndGlyphs" stroke="#bb931f" stroke-width="0.25">San Angelo: 80-83</text>
<text x="19.6" y="348.8" font-size="23" class="b" fill="#bb931f" textLength="165.9" lengthAdjust="spacingAndGlyphs" stroke="#bb931f" stroke-width="0.25">Abilene: 79-82</text>
<text x="168.5" y="446.8" font-size="16.6" fill="#fff" stroke="#fff" stroke-width="0.6"><tspan textLength="195.3" lengthAdjust="spacingAndGlyphs">National Weather Service</tspan><tspan x="365.4" font-weight="bold">·</tspan></text>
<text x="168.6" y="467.2" font-size="16.6" fill="#fff" textLength="83.7" lengthAdjust="spacingAndGlyphs" stroke="#fff" stroke-width="0.6">San Angelo</text>
<text x="169.3" y="486.6" font-size="14.8" fill="#fff" textLength="108.8" lengthAdjust="spacingAndGlyphs" stroke="#fff" stroke-width="0.45">weather.gov/SJT</text>
<text x="755.3" y="477.8" font-size="17.8" class="b" fill="#fff" textLength="132.1" lengthAdjust="spacingAndGlyphs">October 8, 2025</text>
<text x="819.4" y="499.8" font-size="17.8" class="b" fill="#fff" textLength="68.9" lengthAdjust="spacingAndGlyphs">9:27 AM</text>
<text x="524.4" y="82.2" font-size="21.3" fill="#111" textLength="285.6" lengthAdjust="spacingAndGlyphs">6-10 Day Temperature Outlook</text>
<text x="613.2" y="95.6" font-size="8" class="dj b" fill="#111" textLength="26.4" lengthAdjust="spacingAndGlyphs">Valid:</text>
<text x="646.4" y="95.6" font-size="8" class="dj" fill="#222" textLength="90.2" lengthAdjust="spacingAndGlyphs">October 13 - 17, 2025</text>
<text x="613.2" y="106.7" font-size="8" class="dj b" fill="#111" textLength="33.8" lengthAdjust="spacingAndGlyphs">Issued:</text>
<text x="654.9" y="106.7" font-size="8" class="dj" fill="#222" textLength="65.0" lengthAdjust="spacingAndGlyphs">October 7, 2025</text>
<rect x="366.8" y="441.9" width="2.6" height="2.6" rx="0.5" fill="#fff"/>
<path d="M17.00,169.95 V119.30 a6.3,6.3 0 0 1 12.6,0 V169.95 A15.4,15.4 0 1 1 17.00,169.95Z" fill="none" stroke="#ef8b3c" stroke-width="3.0" stroke-linejoin="round"/>
<circle cx="23.400000000000002" cy="183.7" r="9.8" fill="#ef8b3c"/>
<path d="M23.900000000000002,184.0 V155.4" stroke="#ef8b3c" stroke-width="3.9" stroke-linecap="round" fill="none"/>
<path d="M36.5,120 H43.8 M36.5,127.5 H38.9 M36.5,135.1 H43.8 M36.5,142.8 H38.9 M36.5,150.3 H43.8 M36.5,158 H38.9 M36.5,165.8 H43.8" stroke="#ef8b3c" stroke-width="2" stroke-linecap="round" fill="none"/>
<clipPath id="noaac1"><circle cx="46.9" cy="457.6" r="34.2"/></clipPath>
<g clip-path="url(#noaac1)">
<circle cx="46.9" cy="457.6" r="34.2" fill="#05349c"/>
<path d="M10.5,442.4 C11.4,442.4 14.2,443.1 15.8,442.4 C17.4,441.7 18.9,438.5 20.3,438.2 C21.7,438.0 22.4,439.3 24.0,440.9 C25.7,442.5 27.9,445.3 30.1,447.7 C32.2,450.1 34.7,453.0 36.8,455.2 C39.0,457.4 41.1,459.4 42.8,460.8 C44.6,462.2 45.8,463.6 47.4,463.6 C48.9,463.6 50.4,462.1 51.9,460.8 C53.4,459.4 54.9,457.7 56.4,455.6 C57.9,453.6 59.4,451.0 60.9,448.7 C62.4,446.5 63.9,443.8 65.4,442.0 C66.9,440.1 68.4,438.6 69.9,437.6 C71.4,436.6 72.8,436.1 74.4,436.1 C76.0,436.2 78.0,437.4 79.7,437.9 C81.3,438.5 83.4,439.2 84.2,439.4 L84.2,495.0 L9.0,495.0Z" fill="#1591d9"/>
<path d="M13.5,445.4 C14.2,443.7 18.5,438.7 20.3,437.9 C22.0,437.2 22.4,439.3 24.0,440.9 C25.7,442.5 27.9,445.3 30.1,447.7 C32.2,450.1 34.7,453.0 36.8,455.2 C39.0,457.4 41.1,459.4 42.8,460.8 C44.6,462.2 45.8,463.6 47.4,463.6 C48.9,463.6 50.4,462.1 51.9,460.8 C53.4,459.4 54.9,457.7 56.4,455.6 C57.9,453.6 59.4,451.0 60.9,448.7 C62.4,446.5 63.9,443.8 65.4,442.0 C66.9,440.1 68.3,438.6 69.9,437.6 C71.5,436.6 73.2,435.3 74.9,436.1 C76.5,436.9 79.1,441.0 79.7,442.4 C80.3,443.8 79.5,444.0 78.5,444.7 C77.5,445.3 75.2,445.4 73.7,446.3 C72.1,447.2 70.7,448.4 69.1,449.9 C67.6,451.5 66.0,453.9 64.6,455.6 C63.3,457.4 61.9,459.3 60.9,460.5 C59.8,461.6 58.3,462.2 58.3,462.6 C58.3,463.0 60.2,462.6 60.9,462.9 C61.6,463.1 63.2,463.6 62.7,463.9 C62.2,464.3 59.6,464.5 57.9,465.0 C56.2,465.4 54.4,465.8 52.6,466.5 C50.9,467.1 49.0,468.1 47.4,468.7 C45.7,469.4 44.6,470.0 42.8,470.4 C41.1,470.7 37.6,471.0 36.8,470.8 C36.1,470.6 37.6,469.8 38.3,469.2 C39.1,468.6 40.4,467.8 41.3,467.4 C42.3,466.9 44.3,467.0 43.9,466.6 C43.5,466.2 40.8,465.8 39.1,465.0 C37.4,464.1 35.7,462.8 33.8,461.4 C31.9,459.9 29.8,458.0 27.8,456.4 C25.8,454.8 23.7,453.1 21.8,451.7 C19.9,450.4 17.9,449.2 16.5,448.1 C15.2,447.1 12.9,447.1 13.5,445.4Z" fill="#fff"/>
</g>
<text x="47.4" y="444.7" font-size="12.0" class="b" fill="#fff" text-anchor="middle" textLength="27.2" lengthAdjust="spacingAndGlyphs">NOAA</text>
<circle cx="125.6" cy="457.5" r="34.2" fill="#fff"/>
<clipPath id="nwsc"><circle cx="125.6" cy="457.5" r="20.4"/></clipPath>
<g clip-path="url(#nwsc)">
<circle cx="125.6" cy="457.5" r="20.4" fill="#5eb5e8"/>
<path d="M120.3,437.7 L124.1,450.0 M127.4,437.1 L127.4,450.0 M134.6,438.7 L131.6,450.0 M140.9,442.8 L135.4,451.5" stroke="#2a7fc8" stroke-width="0.6" fill="none"/>
<path d="M104.6,465.0 Q115.1,461.3 125.6,465.0 T146.6,465.0 V480.0 H104.6Z" fill="#fff"/>
<path d="M104.6,471.8 Q115.1,468.3 125.6,471.5 T146.6,470.7 V480.0 H104.6Z" fill="#6cc0ea"/>
</g>
<circle cx="125.6" cy="457.5" r="20.4" fill="none" stroke="#2a5fc0" stroke-width="0.7"/>
<path d="M103.1,459.3 C102.7,458.2 102.2,457.0 102.5,456.0 C102.8,455.0 104.3,454.3 104.9,453.3 C105.4,452.3 105.1,450.8 105.8,450.0 C106.5,449.1 107.9,448.4 109.1,448.2 C110.3,447.9 111.7,448.9 112.8,448.5 C114.0,448.1 114.6,446.2 115.8,445.8 C117.1,445.3 119.0,445.5 120.3,445.8 C121.7,446.1 122.9,447.8 124.1,447.7 C125.3,447.7 126.0,446.0 127.4,445.5 C128.8,445.0 130.9,444.6 132.4,444.9 C133.9,445.1 135.0,446.6 136.4,447.0 C137.8,447.3 139.4,446.5 140.6,447.0 C141.9,447.4 143.2,448.8 143.9,449.7 C144.7,450.6 144.3,451.6 145.1,452.2 C146.0,452.8 148.0,452.6 148.9,453.3 C149.8,454.0 150.5,455.3 150.4,456.3 C150.3,457.3 149.3,458.6 148.4,459.3 C147.6,460.0 145.9,459.8 145.1,460.5 C144.4,461.3 144.8,463.1 143.9,463.8 C143.0,464.6 141.1,465.0 139.9,465.0 C138.6,465.0 137.5,463.5 136.4,463.8 C135.3,464.1 134.5,466.2 133.1,466.8 C131.8,467.5 129.7,467.9 128.3,467.7 C126.9,467.5 126.2,465.8 124.8,465.8 C123.5,465.8 122.0,467.5 120.3,467.7 C118.7,467.9 116.3,467.4 115.1,466.8 C113.8,466.2 114.0,464.6 112.8,464.3 C111.7,463.9 109.7,465.0 108.3,464.7 C107.0,464.5 105.7,463.7 104.9,462.8 C104.0,461.9 103.5,460.4 103.1,459.3Z" fill="#0c12a0"/>
<polygon points="110.0,438.0 124.7,447.9 121.1,449.4 131.9,457.8 128.3,459.3 143.6,474.6 140.9,474.3 122.9,461.4 126.8,459.6 116.3,451.8 120.2,450.3 112.1,441.3" fill="#fff" stroke="#0c12a0" stroke-width="0.6" stroke-linejoin="round"/>
<path id="nwsarc" d="M113.08,478.33 A24.3,24.3 0 1 1 138.12,478.33" fill="none"/>
<text font-size="10.6" class="b" fill="#e5202b" stroke="#e5202b" stroke-width="0.35"><textPath href="#nwsarc" textLength="125.4" lengthAdjust="spacingAndGlyphs">NATIONAL WEATHER SERVICE</textPath></text>
<polygon points="118.00,482.53 118.37,483.52 119.43,483.57 118.60,484.23 118.88,485.25 118.00,484.66 117.12,485.25 117.40,484.23 116.57,483.57 117.63,483.52" fill="#1f3fb0"/>
<polygon points="125.60,483.00 126.12,484.39 127.60,484.45 126.44,485.37 126.83,486.80 125.60,485.98 124.37,486.80 124.76,485.37 123.60,484.45 125.08,484.39" fill="#e5202b"/>
<polygon points="133.20,482.53 133.57,483.52 134.63,483.57 133.80,484.23 134.08,485.25 133.20,484.66 132.32,485.25 132.60,484.23 131.77,483.57 132.83,483.52" fill="#1f3fb0"/>
<circle cx="459.5" cy="80" r="10.90" fill="#f4fafd" stroke="#3e97cf" stroke-width="2.40"/>
<circle cx="459.5" cy="80" r="10.90" fill="none" stroke="#a9d3ec" stroke-width="0.70" stroke-dasharray="1.2 1"/>
<circle cx="459.5" cy="80" r="8.60" fill="#fff" stroke="#5aa7d8" stroke-width="0.5"/>
<path d="M456.3,73.4 L459.5,77.6 L462.7,73.4 L461.5,78.0 H457.5Z" fill="#b8862a"/>
<rect x="454.8" y="77.8" width="9.6" height="4.6" fill="#2f7fc4"/>
<path d="M454.8,82.3 H464.4 V85.0 Q464.4,87.4 459.6,87.6 Q454.8,87.4 454.8,85.0Z" fill="#e6b422"/>
<path d="M457.5,80.6 h4.0" stroke="#cfe6f5" stroke-width="1.1"/>
<path d="M459.6,82.5 V87.4" stroke="#b8862a" stroke-width="0.5"/>
<clipPath id="noaac2"><circle cx="876.9" cy="80" r="12.4"/></clipPath>
<g clip-path="url(#noaac2)">
<circle cx="876.9" cy="80" r="12.4" fill="#05349c"/>
<path d="M863.7,74.5 C864.0,74.5 865.0,74.7 865.6,74.5 C866.2,74.2 866.8,73.1 867.3,73.0 C867.8,72.9 868.0,73.4 868.6,73.9 C869.2,74.5 870.0,75.5 870.8,76.4 C871.6,77.3 872.5,78.3 873.2,79.1 C874.0,79.9 874.8,80.6 875.4,81.1 C876.1,81.7 876.5,82.2 877.1,82.2 C877.6,82.2 878.2,81.6 878.7,81.1 C879.2,80.7 879.8,80.0 880.3,79.3 C880.9,78.6 881.4,77.6 882.0,76.8 C882.5,76.0 883.1,75.0 883.6,74.3 C884.1,73.7 884.7,73.1 885.2,72.8 C885.8,72.4 886.3,72.2 886.9,72.2 C887.5,72.2 888.2,72.7 888.8,72.9 C889.4,73.1 890.1,73.3 890.4,73.4 L890.4,93.6 L863.2,93.6Z" fill="#1591d9"/>
<path d="M864.8,75.6 C865.0,75.0 866.6,73.1 867.3,72.9 C867.9,72.6 868.0,73.4 868.6,73.9 C869.2,74.5 870.0,75.5 870.8,76.4 C871.6,77.3 872.5,78.3 873.2,79.1 C874.0,79.9 874.8,80.6 875.4,81.1 C876.1,81.7 876.5,82.2 877.1,82.2 C877.6,82.2 878.2,81.6 878.7,81.1 C879.2,80.7 879.8,80.0 880.3,79.3 C880.9,78.6 881.4,77.6 882.0,76.8 C882.5,76.0 883.1,75.0 883.6,74.3 C884.1,73.7 884.7,73.1 885.2,72.8 C885.8,72.4 886.4,71.9 887.0,72.2 C887.6,72.5 888.6,74.0 888.8,74.5 C889.0,75.0 888.7,75.1 888.3,75.3 C888.0,75.5 887.2,75.6 886.6,75.9 C886.0,76.2 885.5,76.7 885.0,77.2 C884.4,77.8 883.8,78.7 883.3,79.3 C882.8,79.9 882.4,80.6 882.0,81.0 C881.6,81.5 881.0,81.7 881.0,81.8 C881.0,81.9 881.7,81.8 882.0,81.9 C882.2,82.0 882.8,82.2 882.6,82.3 C882.4,82.4 881.5,82.5 880.9,82.7 C880.3,82.8 879.6,83.0 879.0,83.2 C878.3,83.4 877.7,83.8 877.1,84.0 C876.5,84.3 876.1,84.5 875.4,84.6 C874.8,84.8 873.5,84.9 873.2,84.8 C873.0,84.7 873.5,84.4 873.8,84.2 C874.1,84.0 874.5,83.7 874.9,83.5 C875.2,83.4 875.9,83.4 875.8,83.3 C875.7,83.1 874.7,83.0 874.1,82.7 C873.5,82.4 872.8,81.9 872.2,81.4 C871.5,80.8 870.7,80.1 870.0,79.6 C869.3,79.0 868.5,78.4 867.8,77.9 C867.1,77.4 866.4,76.9 865.9,76.6 C865.4,76.2 864.6,76.2 864.8,75.6Z" fill="#fff"/>
</g>
<text x="877.1" y="75.3" font-size="4.4" class="b" fill="#fff" text-anchor="middle" textLength="9.9" lengthAdjust="spacingAndGlyphs">NOAA</text>
</svg>
</body></html>
